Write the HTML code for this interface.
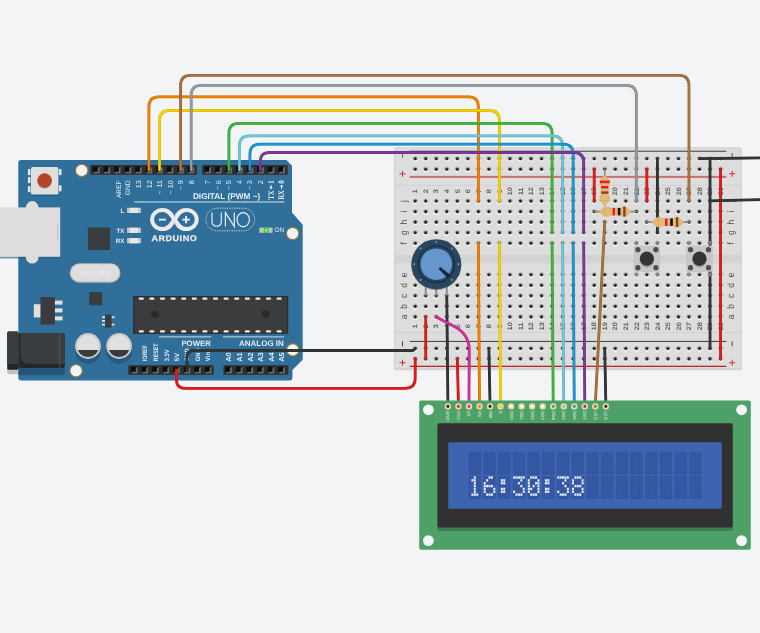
<!DOCTYPE html><html><head><meta charset="utf-8"><style>html,body{margin:0;padding:0;background:#f3f4f6;}svg{display:block;}text{text-rendering:geometricPrecision;font-family:"Liberation Sans", sans-serif;}</style></head><body>
<svg style="will-change:transform" width="760" height="633" viewBox="0 0 760 633">
<rect width="760" height="633" fill="#f3f4f6"/>
<path d="M21,160 L286.3,160 L292,165.7 L292,212.6 L302.7,224.7 L302.7,359.8 L292.4,370 L292.4,377.5 Q292.4,380.5 289.4,380.5 L21.3,380.5 Q18.3,380.5 18.3,377.5 L18.3,163 Q18.3,160 21,160 Z" fill="#306f99"/>
<rect x="0" y="208.5" width="60.2" height="50" fill="#245a80" opacity="0.6"/>
<circle cx="32.2" cy="207.4" r="6.3" fill="#dedede"/>
<circle cx="32.2" cy="257.2" r="6.3" fill="#dedede"/>
<rect x="0" y="207.4" width="60.2" height="49.4" fill="#dedede"/>
<rect x="57.2" y="224" width="1" height="16" fill="#b9b9b9"/>
<rect x="31" y="168.5" width="27.4" height="27.5" rx="1.5" fill="#245a80" opacity="0.7"/>
<rect x="27.9" y="169" width="2.6" height="6.2" rx="0.8" fill="#e2e6ea"/>
<rect x="27.9" y="177" width="2.6" height="6.2" rx="0.8" fill="#e2e6ea"/>
<rect x="27.9" y="186" width="2.6" height="6.2" rx="0.8" fill="#e2e6ea"/>
<rect x="58.9" y="169" width="2.6" height="6.2" rx="0.8" fill="#e2e6ea"/>
<rect x="58.9" y="185.2" width="2.6" height="6.2" rx="0.8" fill="#e2e6ea"/>
<rect x="31" y="167.1" width="27.4" height="27.5" rx="1.5" fill="#dfdfdf"/>
<circle cx="44.6" cy="181.3" r="7.2" fill="#8a3a25" opacity="0.5"/>
<circle cx="44.6" cy="180.5" r="7.2" fill="#b5442a"/>
<circle cx="81.7" cy="170.4" r="6.2" fill="#f3f4f6" stroke="#947c38" stroke-width="1.2"/>
<circle cx="292.6" cy="233.5" r="6.2" fill="#f3f4f6" stroke="#947c38" stroke-width="1.2"/>
<circle cx="292.8" cy="349.9" r="6.2" fill="#f3f4f6" stroke="#947c38" stroke-width="1.2"/>
<circle cx="76.1" cy="370.7" r="6.2" fill="#f3f4f6" stroke="#947c38" stroke-width="1.2"/>
<rect x="90.3" y="165" width="106.6" height="9.8" rx="0.8" fill="#2f2f2f"/>
<rect x="92.8" y="166.3" width="6.8" height="7.2" fill="#1c1c1c"/>
<path d="M92.8,173.5 L99.6,173.5 L99.6,166.3 L97.6,168.3 L97.6,171.5 L94.8,171.5 Z" fill="#6b6b6b"/>
<rect x="93.6" y="167.1" width="4" height="4.4" fill="#0c0c0c"/>
<rect x="103.33" y="166.3" width="6.8" height="7.2" fill="#1c1c1c"/>
<path d="M103.33,173.5 L110.13,173.5 L110.13,166.3 L108.13,168.3 L108.13,171.5 L105.33,171.5 Z" fill="#6b6b6b"/>
<rect x="104.13" y="167.1" width="4" height="4.4" fill="#0c0c0c"/>
<rect x="113.86" y="166.3" width="6.8" height="7.2" fill="#1c1c1c"/>
<path d="M113.86,173.5 L120.66,173.5 L120.66,166.3 L118.66,168.3 L118.66,171.5 L115.86,171.5 Z" fill="#6b6b6b"/>
<rect x="114.66" y="167.1" width="4" height="4.4" fill="#0c0c0c"/>
<rect x="124.39" y="166.3" width="6.8" height="7.2" fill="#1c1c1c"/>
<path d="M124.39,173.5 L131.19,173.5 L131.19,166.3 L129.19,168.3 L129.19,171.5 L126.39,171.5 Z" fill="#6b6b6b"/>
<rect x="125.19" y="167.1" width="4" height="4.4" fill="#0c0c0c"/>
<rect x="134.92" y="166.3" width="6.8" height="7.2" fill="#1c1c1c"/>
<path d="M134.92,173.5 L141.72,173.5 L141.72,166.3 L139.72,168.3 L139.72,171.5 L136.92,171.5 Z" fill="#6b6b6b"/>
<rect x="135.72" y="167.1" width="4" height="4.4" fill="#0c0c0c"/>
<rect x="145.45" y="166.3" width="6.8" height="7.2" fill="#1c1c1c"/>
<path d="M145.45,173.5 L152.25,173.5 L152.25,166.3 L150.25,168.3 L150.25,171.5 L147.45,171.5 Z" fill="#6b6b6b"/>
<rect x="146.25" y="167.1" width="4" height="4.4" fill="#0c0c0c"/>
<rect x="155.98" y="166.3" width="6.8" height="7.2" fill="#1c1c1c"/>
<path d="M155.98,173.5 L162.78,173.5 L162.78,166.3 L160.78,168.3 L160.78,171.5 L157.98,171.5 Z" fill="#6b6b6b"/>
<rect x="156.78" y="167.1" width="4" height="4.4" fill="#0c0c0c"/>
<rect x="166.51" y="166.3" width="6.8" height="7.2" fill="#1c1c1c"/>
<path d="M166.51,173.5 L173.31,173.5 L173.31,166.3 L171.31,168.3 L171.31,171.5 L168.51,171.5 Z" fill="#6b6b6b"/>
<rect x="167.31" y="167.1" width="4" height="4.4" fill="#0c0c0c"/>
<rect x="177.04" y="166.3" width="6.8" height="7.2" fill="#1c1c1c"/>
<path d="M177.04,173.5 L183.84,173.5 L183.84,166.3 L181.84,168.3 L181.84,171.5 L179.04,171.5 Z" fill="#6b6b6b"/>
<rect x="177.84" y="167.1" width="4" height="4.4" fill="#0c0c0c"/>
<rect x="187.57" y="166.3" width="6.8" height="7.2" fill="#1c1c1c"/>
<path d="M187.57,173.5 L194.37,173.5 L194.37,166.3 L192.37,168.3 L192.37,171.5 L189.57,171.5 Z" fill="#6b6b6b"/>
<rect x="188.37" y="167.1" width="4" height="4.4" fill="#0c0c0c"/>
<rect x="202.2" y="165" width="85.5" height="9.8" rx="0.8" fill="#2f2f2f"/>
<rect x="204.3" y="166.3" width="6.8" height="7.2" fill="#1c1c1c"/>
<path d="M204.3,173.5 L211.1,173.5 L211.1,166.3 L209.1,168.3 L209.1,171.5 L206.3,171.5 Z" fill="#6b6b6b"/>
<rect x="205.1" y="167.1" width="4" height="4.4" fill="#0c0c0c"/>
<rect x="214.85" y="166.3" width="6.8" height="7.2" fill="#1c1c1c"/>
<path d="M214.85,173.5 L221.65,173.5 L221.65,166.3 L219.65,168.3 L219.65,171.5 L216.85,171.5 Z" fill="#6b6b6b"/>
<rect x="215.65" y="167.1" width="4" height="4.4" fill="#0c0c0c"/>
<rect x="225.4" y="166.3" width="6.8" height="7.2" fill="#1c1c1c"/>
<path d="M225.4,173.5 L232.2,173.5 L232.2,166.3 L230.2,168.3 L230.2,171.5 L227.4,171.5 Z" fill="#6b6b6b"/>
<rect x="226.2" y="167.1" width="4" height="4.4" fill="#0c0c0c"/>
<rect x="235.95" y="166.3" width="6.8" height="7.2" fill="#1c1c1c"/>
<path d="M235.95,173.5 L242.75,173.5 L242.75,166.3 L240.75,168.3 L240.75,171.5 L237.95,171.5 Z" fill="#6b6b6b"/>
<rect x="236.75" y="167.1" width="4" height="4.4" fill="#0c0c0c"/>
<rect x="246.5" y="166.3" width="6.8" height="7.2" fill="#1c1c1c"/>
<path d="M246.5,173.5 L253.3,173.5 L253.3,166.3 L251.3,168.3 L251.3,171.5 L248.5,171.5 Z" fill="#6b6b6b"/>
<rect x="247.3" y="167.1" width="4" height="4.4" fill="#0c0c0c"/>
<rect x="257.05" y="166.3" width="6.8" height="7.2" fill="#1c1c1c"/>
<path d="M257.05,173.5 L263.85,173.5 L263.85,166.3 L261.85,168.3 L261.85,171.5 L259.05,171.5 Z" fill="#6b6b6b"/>
<rect x="257.85" y="167.1" width="4" height="4.4" fill="#0c0c0c"/>
<rect x="267.6" y="166.3" width="6.8" height="7.2" fill="#1c1c1c"/>
<path d="M267.6,173.5 L274.4,173.5 L274.4,166.3 L272.4,168.3 L272.4,171.5 L269.6,171.5 Z" fill="#6b6b6b"/>
<rect x="268.4" y="167.1" width="4" height="4.4" fill="#0c0c0c"/>
<rect x="278.15" y="166.3" width="6.8" height="7.2" fill="#1c1c1c"/>
<path d="M278.15,173.5 L284.95,173.5 L284.95,166.3 L282.95,168.3 L282.95,171.5 L280.15,171.5 Z" fill="#6b6b6b"/>
<rect x="278.95" y="167.1" width="4" height="4.4" fill="#0c0c0c"/>
<rect x="128.3" y="365.2" width="85.4" height="9.6" rx="0.8" fill="#2f2f2f"/>
<rect x="130.8" y="366.4" width="6.8" height="7.2" fill="#1c1c1c"/>
<path d="M130.8,373.6 L137.6,373.6 L137.6,366.4 L135.6,368.4 L135.6,371.6 L132.8,371.6 Z" fill="#6b6b6b"/>
<rect x="131.6" y="367.2" width="4" height="4.4" fill="#0c0c0c"/>
<rect x="141.35" y="366.4" width="6.8" height="7.2" fill="#1c1c1c"/>
<path d="M141.35,373.6 L148.15,373.6 L148.15,366.4 L146.15,368.4 L146.15,371.6 L143.35,371.6 Z" fill="#6b6b6b"/>
<rect x="142.15" y="367.2" width="4" height="4.4" fill="#0c0c0c"/>
<rect x="151.9" y="366.4" width="6.8" height="7.2" fill="#1c1c1c"/>
<path d="M151.9,373.6 L158.7,373.6 L158.7,366.4 L156.7,368.4 L156.7,371.6 L153.9,371.6 Z" fill="#6b6b6b"/>
<rect x="152.7" y="367.2" width="4" height="4.4" fill="#0c0c0c"/>
<rect x="162.45" y="366.4" width="6.8" height="7.2" fill="#1c1c1c"/>
<path d="M162.45,373.6 L169.25,373.6 L169.25,366.4 L167.25,368.4 L167.25,371.6 L164.45,371.6 Z" fill="#6b6b6b"/>
<rect x="163.25" y="367.2" width="4" height="4.4" fill="#0c0c0c"/>
<rect x="173" y="366.4" width="6.8" height="7.2" fill="#1c1c1c"/>
<path d="M173,373.6 L179.8,373.6 L179.8,366.4 L177.8,368.4 L177.8,371.6 L175,371.6 Z" fill="#6b6b6b"/>
<rect x="173.8" y="367.2" width="4" height="4.4" fill="#0c0c0c"/>
<rect x="183.55" y="366.4" width="6.8" height="7.2" fill="#1c1c1c"/>
<path d="M183.55,373.6 L190.35,373.6 L190.35,366.4 L188.35,368.4 L188.35,371.6 L185.55,371.6 Z" fill="#6b6b6b"/>
<rect x="184.35" y="367.2" width="4" height="4.4" fill="#0c0c0c"/>
<rect x="194.1" y="366.4" width="6.8" height="7.2" fill="#1c1c1c"/>
<path d="M194.1,373.6 L200.9,373.6 L200.9,366.4 L198.9,368.4 L198.9,371.6 L196.1,371.6 Z" fill="#6b6b6b"/>
<rect x="194.9" y="367.2" width="4" height="4.4" fill="#0c0c0c"/>
<rect x="204.65" y="366.4" width="6.8" height="7.2" fill="#1c1c1c"/>
<path d="M204.65,373.6 L211.45,373.6 L211.45,366.4 L209.45,368.4 L209.45,371.6 L206.65,371.6 Z" fill="#6b6b6b"/>
<rect x="205.45" y="367.2" width="4" height="4.4" fill="#0c0c0c"/>
<rect x="223.5" y="365.2" width="64.8" height="9.6" rx="0.8" fill="#2f2f2f"/>
<rect x="225.1" y="366.4" width="6.8" height="7.2" fill="#1c1c1c"/>
<path d="M225.1,373.6 L231.9,373.6 L231.9,366.4 L229.9,368.4 L229.9,371.6 L227.1,371.6 Z" fill="#6b6b6b"/>
<rect x="225.9" y="367.2" width="4" height="4.4" fill="#0c0c0c"/>
<rect x="235.7" y="366.4" width="6.8" height="7.2" fill="#1c1c1c"/>
<path d="M235.7,373.6 L242.5,373.6 L242.5,366.4 L240.5,368.4 L240.5,371.6 L237.7,371.6 Z" fill="#6b6b6b"/>
<rect x="236.5" y="367.2" width="4" height="4.4" fill="#0c0c0c"/>
<rect x="246.3" y="366.4" width="6.8" height="7.2" fill="#1c1c1c"/>
<path d="M246.3,373.6 L253.1,373.6 L253.1,366.4 L251.1,368.4 L251.1,371.6 L248.3,371.6 Z" fill="#6b6b6b"/>
<rect x="247.1" y="367.2" width="4" height="4.4" fill="#0c0c0c"/>
<rect x="256.9" y="366.4" width="6.8" height="7.2" fill="#1c1c1c"/>
<path d="M256.9,373.6 L263.7,373.6 L263.7,366.4 L261.7,368.4 L261.7,371.6 L258.9,371.6 Z" fill="#6b6b6b"/>
<rect x="257.7" y="367.2" width="4" height="4.4" fill="#0c0c0c"/>
<rect x="267.5" y="366.4" width="6.8" height="7.2" fill="#1c1c1c"/>
<path d="M267.5,373.6 L274.3,373.6 L274.3,366.4 L272.3,368.4 L272.3,371.6 L269.5,371.6 Z" fill="#6b6b6b"/>
<rect x="268.3" y="367.2" width="4" height="4.4" fill="#0c0c0c"/>
<rect x="278.1" y="366.4" width="6.8" height="7.2" fill="#1c1c1c"/>
<path d="M278.1,373.6 L284.9,373.6 L284.9,366.4 L282.9,368.4 L282.9,371.6 L280.1,371.6 Z" fill="#6b6b6b"/>
<rect x="278.9" y="367.2" width="4" height="4.4" fill="#0c0c0c"/>
<text transform="translate(120.58,180.3) rotate(-90)" text-anchor="end" font-size="6.6" textLength="17.8" lengthAdjust="spacingAndGlyphs" fill="#e4ecf2">AREF</text>
<text transform="translate(130.05,180.3) rotate(-90)" text-anchor="end" font-size="6.8" textLength="14.9" lengthAdjust="spacingAndGlyphs" fill="#e4ecf2">GND</text>
<text transform="translate(141.49,180.3) rotate(-90)" text-anchor="end" font-size="7.2" fill="#e4ecf2">13</text>
<text transform="translate(151.99,180.3) rotate(-90)" text-anchor="end" font-size="7.2" fill="#e4ecf2">12</text>
<text transform="translate(162.49,180.3) rotate(-90)" text-anchor="end" font-size="7.2" fill="#e4ecf2">11</text>
<text transform="translate(162.1,194.2) rotate(-90)" font-size="6.5" fill="#e4ecf2">~</text>
<text transform="translate(172.99,180.3) rotate(-90)" text-anchor="end" font-size="7.2" fill="#e4ecf2">10</text>
<text transform="translate(172.6,194.2) rotate(-90)" font-size="6.5" fill="#e4ecf2">~</text>
<text transform="translate(183.49,180.3) rotate(-90)" text-anchor="end" font-size="7.2" fill="#e4ecf2">9</text>
<text transform="translate(183.1,189.8) rotate(-90)" font-size="6.5" fill="#e4ecf2">~</text>
<text transform="translate(193.99,180.3) rotate(-90)" text-anchor="end" font-size="7.2" fill="#e4ecf2">8</text>
<text transform="translate(210.29,180.3) rotate(-90)" text-anchor="end" font-size="7.2" fill="#e4ecf2">7</text>
<text transform="translate(220.79,180.3) rotate(-90)" text-anchor="end" font-size="7.2" fill="#e4ecf2">6</text>
<text transform="translate(220.4,189.4) rotate(-90)" font-size="6.5" fill="#e4ecf2">~</text>
<text transform="translate(231.29,180.3) rotate(-90)" text-anchor="end" font-size="7.2" fill="#e4ecf2">5</text>
<text transform="translate(230.9,189.4) rotate(-90)" font-size="6.5" fill="#e4ecf2">~</text>
<text transform="translate(241.89,180.3) rotate(-90)" text-anchor="end" font-size="7.2" fill="#e4ecf2">4</text>
<text transform="translate(252.39,180.3) rotate(-90)" text-anchor="end" font-size="7.2" fill="#e4ecf2">3</text>
<text transform="translate(252,189.4) rotate(-90)" font-size="6.5" fill="#e4ecf2">~</text>
<text transform="translate(262.99,180.3) rotate(-90)" text-anchor="end" font-size="7.2" fill="#e4ecf2">2</text>
<text transform="translate(273.8,199.8) rotate(-90) scale(0.8,1)" style="font-family:Liberation Serif,serif" font-size="8.5" font-weight="bold" fill="#e4ecf2">TX</text>
<text transform="translate(273.8,183.7) rotate(-90) scale(0.8,1)" style="font-family:Liberation Serif,serif" font-size="8.5" font-weight="bold" fill="#e4ecf2">1</text>
<path d="M269.4,188.6 L272.6,188.6 L271,185.6 Z" fill="#e4ecf2"/>
<rect x="270.65" y="185" width="0.7" height="4.4" fill="#e4ecf2"/>
<text transform="translate(284.4,199.8) rotate(-90) scale(0.8,1)" style="font-family:Liberation Serif,serif" font-size="8.5" font-weight="bold" fill="#e4ecf2">RX</text>
<text transform="translate(284.4,183.7) rotate(-90) scale(0.8,1)" style="font-family:Liberation Serif,serif" font-size="8.5" font-weight="bold" fill="#e4ecf2">0</text>
<path d="M280,185.6 L283.2,185.6 L281.6,188.6 Z" fill="#e4ecf2"/>
<rect x="281.25" y="185" width="0.7" height="4.4" fill="#e4ecf2"/>
<text x="192.9" y="199.1" font-size="8.2" font-weight="bold" textLength="67.4" lengthAdjust="spacingAndGlyphs" fill="#e4ecf2">DIGITAL (PWM ~)</text>
<rect x="134.4" y="201.3" width="150" height="1.4" fill="#a9c3d6"/>
<text transform="translate(147,361.2) rotate(-90)" font-size="6.4" font-weight="bold" textLength="16.3" lengthAdjust="spacingAndGlyphs" fill="#e4ecf2">IOREF</text>
<text transform="translate(158.1,361.2) rotate(-90)" font-size="6.4" font-weight="bold" textLength="17.7" lengthAdjust="spacingAndGlyphs" fill="#e4ecf2">RESET</text>
<text transform="translate(168.5,361.2) rotate(-90)" font-size="6.4" font-weight="bold" textLength="11.8" lengthAdjust="spacingAndGlyphs" fill="#e4ecf2">3.3V</text>
<text transform="translate(178.8,361.2) rotate(-90)" font-size="6.4" font-weight="bold" textLength="8.4" lengthAdjust="spacingAndGlyphs" fill="#e4ecf2">5V</text>
<text transform="translate(189.2,361.2) rotate(-90)" font-size="6.4" font-weight="bold" textLength="12.8" lengthAdjust="spacingAndGlyphs" fill="#e4ecf2">GND</text>
<text transform="translate(199.7,361.2) rotate(-90)" font-size="6.4" font-weight="bold" textLength="12.8" lengthAdjust="spacingAndGlyphs" fill="#e4ecf2">GND</text>
<text transform="translate(210.1,361.2) rotate(-90)" font-size="6.4" font-weight="bold" textLength="9.4" lengthAdjust="spacingAndGlyphs" fill="#e4ecf2">Vin</text>
<text transform="translate(231.39,361.8) rotate(-90)" font-size="7.2" font-weight="bold" textLength="9.5" lengthAdjust="spacingAndGlyphs" fill="#e4ecf2">A0</text>
<text transform="translate(241.99,361.8) rotate(-90)" font-size="7.2" font-weight="bold" textLength="9.5" lengthAdjust="spacingAndGlyphs" fill="#e4ecf2">A1</text>
<text transform="translate(252.59,361.8) rotate(-90)" font-size="7.2" font-weight="bold" textLength="9.5" lengthAdjust="spacingAndGlyphs" fill="#e4ecf2">A2</text>
<text transform="translate(263.19,361.8) rotate(-90)" font-size="7.2" font-weight="bold" textLength="9.5" lengthAdjust="spacingAndGlyphs" fill="#e4ecf2">A3</text>
<text transform="translate(273.79,361.8) rotate(-90)" font-size="7.2" font-weight="bold" textLength="9.5" lengthAdjust="spacingAndGlyphs" fill="#e4ecf2">A4</text>
<text transform="translate(284.39,361.8) rotate(-90)" font-size="7.2" font-weight="bold" textLength="9.5" lengthAdjust="spacingAndGlyphs" fill="#e4ecf2">A5</text>
<rect x="159" y="336.2" width="52.2" height="1.3" fill="#a9c3d6"/>
<rect x="223" y="336.2" width="61.2" height="1.3" fill="#a9c3d6"/>
<text x="181.4" y="345.8" font-size="7.8" font-weight="bold" fill="#e4ecf2">POWER</text>
<text x="238.9" y="345.5" font-size="8.0" font-weight="bold" textLength="45" lengthAdjust="spacingAndGlyphs" fill="#e4ecf2">ANALOG IN</text>
<rect x="127.1" y="207.8" width="13.8" height="5.2" fill="#c9c9c9"/>
<rect x="130" y="207.8" width="8" height="5.2" fill="#e6e6e6"/>
<text x="124.4" y="212.6" text-anchor="end" font-size="6.2" font-weight="bold" fill="#e4ecf2">L</text>
<rect x="127.1" y="227.7" width="13.8" height="5.2" fill="#c9c9c9"/>
<rect x="130" y="227.7" width="8" height="5.2" fill="#e6e6e6"/>
<text x="124.4" y="232.5" text-anchor="end" font-size="6.2" font-weight="bold" fill="#e4ecf2">TX</text>
<rect x="127.1" y="238.1" width="13.8" height="5.2" fill="#c9c9c9"/>
<rect x="130" y="238.1" width="8" height="5.2" fill="#e6e6e6"/>
<text x="124.4" y="242.9" text-anchor="end" font-size="6.2" font-weight="bold" fill="#e4ecf2">RX</text>
<rect x="87.9" y="227.6" width="22.1" height="22.4" rx="0.6" fill="#3a3d40"/>
<ellipse cx="162.5" cy="219.55" rx="12.4" ry="11.45" fill="#ebebeb"/><ellipse cx="186.3" cy="219.55" rx="12.4" ry="11.45" fill="#ebebeb"/>
<path d="M171.8,219.6 C169,215 166.5,212.1 162.5,212.1 C157.8,212.1 154.1,215.5 154.1,219.6 C154.1,223.7 157.8,227.1 162.5,227.1 C166.5,227.1 169,224.2 171.8,219.6 Z" fill="#306f99"/>
<path d="M177.2,219.6 C180,215 182.5,212.1 186.5,212.1 C191.2,212.1 194.7,215.5 194.7,219.6 C194.7,223.7 191.2,227.1 186.5,227.1 C182.5,227.1 180,224.2 177.2,219.6 Z" fill="#306f99"/>
<rect x="158.8" y="218.7" width="7.1" height="1.9" fill="#ebebeb"/>
<rect x="182.4" y="218.7" width="7.4" height="1.9" fill="#ebebeb"/><rect x="185.15" y="215.9" width="1.9" height="7.4" fill="#ebebeb"/>
<text transform="translate(174.3,240.7) scale(1,0.9)" text-anchor="middle" font-size="9" font-weight="bold" letter-spacing="0.55" fill="#ebebeb" stroke="#ebebeb" stroke-width="0.3">ARDUINO</text>
<rect x="205.9" y="208.2" width="48.8" height="22.6" rx="11.3" fill="none" stroke="#dfe8ef" stroke-width="0.9" stroke-dasharray="1.2 1.2"/>
<g fill="none" stroke="#eef2f5" stroke-width="1.15"><path d="M212,212.6 L212,221.3 Q212,226.2 216.65,226.2 Q221.3,226.2 221.3,221.3 L221.3,212.6"/><path d="M225.4,226.6 L225.4,212.6 L234.3,226.6 L234.3,212.6"/><ellipse cx="243.2" cy="219.6" rx="6.2" ry="6.95"/></g>
<rect x="259.4" y="227.6" width="13.2" height="5.2" fill="#c2c2c2"/>
<rect x="263.8" y="227.6" width="5" height="5.2" fill="#2fd23a"/>
<circle cx="266.3" cy="230.2" r="1.2" fill="#b8ffb8"/>
<text x="274.6" y="232.4" font-size="6.4" fill="#e4ecf2">ON</text>
<rect x="69.7" y="263.3" width="50.8" height="19.4" rx="9.7" fill="#b9b9b9"/>
<rect x="70.6" y="263.9" width="49" height="17.6" rx="8.8" fill="#d4d4d4"/>
<rect x="71.3" y="264.4" width="47.6" height="16.4" rx="8.2" fill="#dedede"/>
<text x="79.7" y="276" font-size="7.8" textLength="30.6" lengthAdjust="spacingAndGlyphs" fill="#ebebeb">SPK16.000G</text>
<rect x="89.1" y="292" width="13.1" height="13.3" rx="0.5" fill="#3a3d40"/>
<rect x="33.8" y="304.2" width="7" height="13.3" fill="#e0e0e0"/>
<rect x="54.5" y="300.6" width="8" height="4" fill="#e0e0e0"/>
<rect x="54.5" y="308.4" width="8" height="4" fill="#e0e0e0"/>
<rect x="54.5" y="316.4" width="8" height="4" fill="#e0e0e0"/>
<rect x="40.5" y="296.9" width="14.4" height="27.6" rx="0.8" fill="#3a3d40"/>
<rect x="102" y="316.3" width="4" height="1.8" fill="#e0e0e0"/>
<rect x="102" y="320" width="4" height="1.8" fill="#e0e0e0"/>
<rect x="102" y="323.7" width="4" height="1.8" fill="#e0e0e0"/>
<rect x="110.5" y="316.3" width="4" height="1.8" fill="#e0e0e0"/>
<rect x="110.5" y="323.7" width="4" height="1.8" fill="#e0e0e0"/>
<rect x="105" y="314.6" width="6.7" height="12.8" rx="0.5" fill="#3a3d40"/>
<rect x="18.3" y="365" width="46.4" height="10.3" rx="2" fill="#245478"/>
<rect x="7.2" y="366" width="11" height="8.3" rx="2" fill="#c2c2c2"/>
<rect x="18.3" y="333.3" width="46.4" height="34.8" rx="2" fill="#252729"/>
<path d="M20.5,333.3 L62.7,333.3 Q64.7,333.3 64.7,335.3 L64.7,363.7 L29.5,363.7 Q20.5,363.7 20.5,354.7 Z" fill="#3b3e41"/>
<rect x="59.3" y="333.3" width="0.9" height="34.8" fill="#55585b"/>
<rect x="7.2" y="331.6" width="11.2" height="38.2" rx="1.6" fill="#232425"/>
<rect x="7.2" y="331.6" width="11.2" height="32.7" rx="1.6" fill="#3a3d40"/>
<circle cx="88" cy="351" r="12.9" fill="#265a80"/>
<circle cx="119.1" cy="351" r="12.9" fill="#265a80"/>
<circle cx="88" cy="346" r="12.9" fill="#c9c9c9"/>
<circle cx="88" cy="346" r="10.9" fill="#e0e0e0"/>
<path d="M77.85,350 L98.15,350 A10.9,10.9 0 0 1 77.85,350 Z" fill="#3b3b3b"/>
<circle cx="119.1" cy="346" r="12.9" fill="#c9c9c9"/>
<circle cx="119.1" cy="346" r="10.9" fill="#e0e0e0"/>
<path d="M108.95,350 L129.25,350 A10.9,10.9 0 0 1 108.95,350 Z" fill="#3b3b3b"/>
<rect x="133" y="296.1" width="155.2" height="37.9" rx="1" fill="#2c2e30"/>
<rect x="134.2" y="297.3" width="152.8" height="35.5" fill="#3a3c3e"/>
<rect x="138.9" y="297.6" width="4.8" height="2.1" rx="0.5" fill="#e8e8e8"/>
<rect x="138.9" y="330.3" width="4.8" height="2.1" rx="0.5" fill="#e8e8e8"/>
<rect x="149.5" y="297.6" width="4.8" height="2.1" rx="0.5" fill="#e8e8e8"/>
<rect x="149.5" y="330.3" width="4.8" height="2.1" rx="0.5" fill="#e8e8e8"/>
<rect x="160.1" y="297.6" width="4.8" height="2.1" rx="0.5" fill="#e8e8e8"/>
<rect x="160.1" y="330.3" width="4.8" height="2.1" rx="0.5" fill="#e8e8e8"/>
<rect x="170.7" y="297.6" width="4.8" height="2.1" rx="0.5" fill="#e8e8e8"/>
<rect x="170.7" y="330.3" width="4.8" height="2.1" rx="0.5" fill="#e8e8e8"/>
<rect x="181.3" y="297.6" width="4.8" height="2.1" rx="0.5" fill="#e8e8e8"/>
<rect x="181.3" y="330.3" width="4.8" height="2.1" rx="0.5" fill="#e8e8e8"/>
<rect x="191.9" y="297.6" width="4.8" height="2.1" rx="0.5" fill="#e8e8e8"/>
<rect x="191.9" y="330.3" width="4.8" height="2.1" rx="0.5" fill="#e8e8e8"/>
<rect x="202.5" y="297.6" width="4.8" height="2.1" rx="0.5" fill="#e8e8e8"/>
<rect x="202.5" y="330.3" width="4.8" height="2.1" rx="0.5" fill="#e8e8e8"/>
<rect x="213.1" y="297.6" width="4.8" height="2.1" rx="0.5" fill="#e8e8e8"/>
<rect x="213.1" y="330.3" width="4.8" height="2.1" rx="0.5" fill="#e8e8e8"/>
<rect x="223.7" y="297.6" width="4.8" height="2.1" rx="0.5" fill="#e8e8e8"/>
<rect x="223.7" y="330.3" width="4.8" height="2.1" rx="0.5" fill="#e8e8e8"/>
<rect x="234.3" y="297.6" width="4.8" height="2.1" rx="0.5" fill="#e8e8e8"/>
<rect x="234.3" y="330.3" width="4.8" height="2.1" rx="0.5" fill="#e8e8e8"/>
<rect x="244.9" y="297.6" width="4.8" height="2.1" rx="0.5" fill="#e8e8e8"/>
<rect x="244.9" y="330.3" width="4.8" height="2.1" rx="0.5" fill="#e8e8e8"/>
<rect x="255.5" y="297.6" width="4.8" height="2.1" rx="0.5" fill="#e8e8e8"/>
<rect x="255.5" y="330.3" width="4.8" height="2.1" rx="0.5" fill="#e8e8e8"/>
<rect x="266.1" y="297.6" width="4.8" height="2.1" rx="0.5" fill="#e8e8e8"/>
<rect x="266.1" y="330.3" width="4.8" height="2.1" rx="0.5" fill="#e8e8e8"/>
<rect x="276.7" y="297.6" width="4.8" height="2.1" rx="0.5" fill="#e8e8e8"/>
<rect x="276.7" y="330.3" width="4.8" height="2.1" rx="0.5" fill="#e8e8e8"/>
<circle cx="155" cy="314.3" r="3.8" fill="#2a2b2c"/>
<circle cx="265.7" cy="314.3" r="3.8" fill="#2a2b2c"/>
<rect x="394.4" y="147.8" width="347" height="221.9" rx="2.5" fill="#dddddd" stroke="#cdcdcd" stroke-width="0.9"/>
<rect x="394" y="368.2" width="347.8" height="1.9" fill="#d3d3d3"/>
<rect x="394" y="184.9" width="347.8" height="0.9" fill="#d0d0d0"/>
<rect x="394" y="332" width="347.8" height="0.9" fill="#d0d0d0"/>
<rect x="394" y="254.9" width="347.8" height="8.4" fill="#d3d3d3"/>
<rect x="409.7" y="150.7" width="316.7" height="1.1" fill="#4a4a4a"/>
<rect x="409.7" y="175.9" width="316.7" height="2" fill="#c87070"/>
<rect x="409.7" y="340.9" width="316.7" height="1.1" fill="#4a4a4a"/>
<rect x="409.7" y="365.7" width="316.7" height="1.3" fill="#b8262b"/>
<rect x="402" y="153" width="1" height="4.5" fill="#5a5a5a"/>
<rect x="399.5" y="173.3" width="6" height="1" fill="#c33"/><rect x="402" y="170.8" width="1" height="6" fill="#c33"/>
<rect x="402" y="341.2" width="1" height="5" fill="#444"/>
<rect x="399.5" y="362.2" width="6" height="1" fill="#c33"/><rect x="402" y="359.7" width="1" height="6" fill="#c33"/>
<rect x="731.7" y="153" width="1" height="4.5" fill="#5a5a5a"/>
<rect x="729.2" y="173.3" width="6" height="1" fill="#c33"/><rect x="731.7" y="170.8" width="1" height="6" fill="#c33"/>
<rect x="731.7" y="341.2" width="1" height="5" fill="#444"/>
<rect x="729.2" y="362.2" width="6" height="1" fill="#c33"/><rect x="731.7" y="359.7" width="1" height="6" fill="#c33"/>
<defs><radialGradient id="gsh"><stop offset="0.3" stop-color="#6a6a6a" stop-opacity="0.7"/><stop offset="1" stop-color="#9a9a9a" stop-opacity="0"/></radialGradient><radialGradient id="ghl"><stop offset="0.45" stop-color="#ffffff" stop-opacity="0.85"/><stop offset="1" stop-color="#ffffff" stop-opacity="0"/></radialGradient><g id="h"><ellipse rx="3.1" ry="2.7" cy="1.0" fill="url(#ghl)"/><ellipse rx="3.5" ry="2.7" cy="-0.4" fill="url(#gsh)"/><circle r="1.55" fill="#2a2a2a"/></g></defs>
<use href="#h" x="415.2" y="158.7"/>
<use href="#h" x="425.73" y="158.7"/>
<use href="#h" x="436.26" y="158.7"/>
<use href="#h" x="446.79" y="158.7"/>
<use href="#h" x="457.32" y="158.7"/>
<use href="#h" x="467.85" y="158.7"/>
<use href="#h" x="478.38" y="158.7"/>
<use href="#h" x="488.91" y="158.7"/>
<use href="#h" x="499.44" y="158.7"/>
<use href="#h" x="509.97" y="158.7"/>
<use href="#h" x="520.5" y="158.7"/>
<use href="#h" x="531.03" y="158.7"/>
<use href="#h" x="541.56" y="158.7"/>
<use href="#h" x="552.09" y="158.7"/>
<use href="#h" x="562.62" y="158.7"/>
<use href="#h" x="573.15" y="158.7"/>
<use href="#h" x="583.68" y="158.7"/>
<use href="#h" x="594.21" y="158.7"/>
<use href="#h" x="604.74" y="158.7"/>
<use href="#h" x="615.27" y="158.7"/>
<use href="#h" x="625.8" y="158.7"/>
<use href="#h" x="636.33" y="158.7"/>
<use href="#h" x="646.86" y="158.7"/>
<use href="#h" x="657.39" y="158.7"/>
<use href="#h" x="667.92" y="158.7"/>
<use href="#h" x="678.45" y="158.7"/>
<use href="#h" x="688.98" y="158.7"/>
<use href="#h" x="699.51" y="158.7"/>
<use href="#h" x="710.04" y="158.7"/>
<use href="#h" x="720.57" y="158.7"/>
<use href="#h" x="415.2" y="169.2"/>
<use href="#h" x="425.73" y="169.2"/>
<use href="#h" x="436.26" y="169.2"/>
<use href="#h" x="446.79" y="169.2"/>
<use href="#h" x="457.32" y="169.2"/>
<use href="#h" x="467.85" y="169.2"/>
<use href="#h" x="478.38" y="169.2"/>
<use href="#h" x="488.91" y="169.2"/>
<use href="#h" x="499.44" y="169.2"/>
<use href="#h" x="509.97" y="169.2"/>
<use href="#h" x="520.5" y="169.2"/>
<use href="#h" x="531.03" y="169.2"/>
<use href="#h" x="541.56" y="169.2"/>
<use href="#h" x="552.09" y="169.2"/>
<use href="#h" x="562.62" y="169.2"/>
<use href="#h" x="573.15" y="169.2"/>
<use href="#h" x="583.68" y="169.2"/>
<use href="#h" x="594.21" y="169.2"/>
<use href="#h" x="604.74" y="169.2"/>
<use href="#h" x="615.27" y="169.2"/>
<use href="#h" x="625.8" y="169.2"/>
<use href="#h" x="636.33" y="169.2"/>
<use href="#h" x="646.86" y="169.2"/>
<use href="#h" x="657.39" y="169.2"/>
<use href="#h" x="667.92" y="169.2"/>
<use href="#h" x="678.45" y="169.2"/>
<use href="#h" x="688.98" y="169.2"/>
<use href="#h" x="699.51" y="169.2"/>
<use href="#h" x="710.04" y="169.2"/>
<use href="#h" x="720.57" y="169.2"/>
<use href="#h" x="415.2" y="201.1"/>
<use href="#h" x="425.73" y="201.1"/>
<use href="#h" x="436.26" y="201.1"/>
<use href="#h" x="446.79" y="201.1"/>
<use href="#h" x="457.32" y="201.1"/>
<use href="#h" x="467.85" y="201.1"/>
<use href="#h" x="478.38" y="201.1"/>
<use href="#h" x="488.91" y="201.1"/>
<use href="#h" x="499.44" y="201.1"/>
<use href="#h" x="509.97" y="201.1"/>
<use href="#h" x="520.5" y="201.1"/>
<use href="#h" x="531.03" y="201.1"/>
<use href="#h" x="541.56" y="201.1"/>
<use href="#h" x="552.09" y="201.1"/>
<use href="#h" x="562.62" y="201.1"/>
<use href="#h" x="573.15" y="201.1"/>
<use href="#h" x="583.68" y="201.1"/>
<use href="#h" x="594.21" y="201.1"/>
<use href="#h" x="604.74" y="201.1"/>
<use href="#h" x="615.27" y="201.1"/>
<use href="#h" x="625.8" y="201.1"/>
<use href="#h" x="636.33" y="201.1"/>
<use href="#h" x="646.86" y="201.1"/>
<use href="#h" x="657.39" y="201.1"/>
<use href="#h" x="667.92" y="201.1"/>
<use href="#h" x="678.45" y="201.1"/>
<use href="#h" x="688.98" y="201.1"/>
<use href="#h" x="699.51" y="201.1"/>
<use href="#h" x="710.04" y="201.1"/>
<use href="#h" x="720.57" y="201.1"/>
<use href="#h" x="415.2" y="211.63"/>
<use href="#h" x="425.73" y="211.63"/>
<use href="#h" x="436.26" y="211.63"/>
<use href="#h" x="446.79" y="211.63"/>
<use href="#h" x="457.32" y="211.63"/>
<use href="#h" x="467.85" y="211.63"/>
<use href="#h" x="478.38" y="211.63"/>
<use href="#h" x="488.91" y="211.63"/>
<use href="#h" x="499.44" y="211.63"/>
<use href="#h" x="509.97" y="211.63"/>
<use href="#h" x="520.5" y="211.63"/>
<use href="#h" x="531.03" y="211.63"/>
<use href="#h" x="541.56" y="211.63"/>
<use href="#h" x="552.09" y="211.63"/>
<use href="#h" x="562.62" y="211.63"/>
<use href="#h" x="573.15" y="211.63"/>
<use href="#h" x="583.68" y="211.63"/>
<use href="#h" x="594.21" y="211.63"/>
<use href="#h" x="604.74" y="211.63"/>
<use href="#h" x="615.27" y="211.63"/>
<use href="#h" x="625.8" y="211.63"/>
<use href="#h" x="636.33" y="211.63"/>
<use href="#h" x="646.86" y="211.63"/>
<use href="#h" x="657.39" y="211.63"/>
<use href="#h" x="667.92" y="211.63"/>
<use href="#h" x="678.45" y="211.63"/>
<use href="#h" x="688.98" y="211.63"/>
<use href="#h" x="699.51" y="211.63"/>
<use href="#h" x="710.04" y="211.63"/>
<use href="#h" x="720.57" y="211.63"/>
<use href="#h" x="415.2" y="222.16"/>
<use href="#h" x="425.73" y="222.16"/>
<use href="#h" x="436.26" y="222.16"/>
<use href="#h" x="446.79" y="222.16"/>
<use href="#h" x="457.32" y="222.16"/>
<use href="#h" x="467.85" y="222.16"/>
<use href="#h" x="478.38" y="222.16"/>
<use href="#h" x="488.91" y="222.16"/>
<use href="#h" x="499.44" y="222.16"/>
<use href="#h" x="509.97" y="222.16"/>
<use href="#h" x="520.5" y="222.16"/>
<use href="#h" x="531.03" y="222.16"/>
<use href="#h" x="541.56" y="222.16"/>
<use href="#h" x="552.09" y="222.16"/>
<use href="#h" x="562.62" y="222.16"/>
<use href="#h" x="573.15" y="222.16"/>
<use href="#h" x="583.68" y="222.16"/>
<use href="#h" x="594.21" y="222.16"/>
<use href="#h" x="604.74" y="222.16"/>
<use href="#h" x="615.27" y="222.16"/>
<use href="#h" x="625.8" y="222.16"/>
<use href="#h" x="636.33" y="222.16"/>
<use href="#h" x="646.86" y="222.16"/>
<use href="#h" x="657.39" y="222.16"/>
<use href="#h" x="667.92" y="222.16"/>
<use href="#h" x="678.45" y="222.16"/>
<use href="#h" x="688.98" y="222.16"/>
<use href="#h" x="699.51" y="222.16"/>
<use href="#h" x="710.04" y="222.16"/>
<use href="#h" x="720.57" y="222.16"/>
<use href="#h" x="415.2" y="232.69"/>
<use href="#h" x="425.73" y="232.69"/>
<use href="#h" x="436.26" y="232.69"/>
<use href="#h" x="446.79" y="232.69"/>
<use href="#h" x="457.32" y="232.69"/>
<use href="#h" x="467.85" y="232.69"/>
<use href="#h" x="478.38" y="232.69"/>
<use href="#h" x="488.91" y="232.69"/>
<use href="#h" x="499.44" y="232.69"/>
<use href="#h" x="509.97" y="232.69"/>
<use href="#h" x="520.5" y="232.69"/>
<use href="#h" x="531.03" y="232.69"/>
<use href="#h" x="541.56" y="232.69"/>
<use href="#h" x="552.09" y="232.69"/>
<use href="#h" x="562.62" y="232.69"/>
<use href="#h" x="573.15" y="232.69"/>
<use href="#h" x="583.68" y="232.69"/>
<use href="#h" x="594.21" y="232.69"/>
<use href="#h" x="604.74" y="232.69"/>
<use href="#h" x="615.27" y="232.69"/>
<use href="#h" x="625.8" y="232.69"/>
<use href="#h" x="636.33" y="232.69"/>
<use href="#h" x="646.86" y="232.69"/>
<use href="#h" x="657.39" y="232.69"/>
<use href="#h" x="667.92" y="232.69"/>
<use href="#h" x="678.45" y="232.69"/>
<use href="#h" x="688.98" y="232.69"/>
<use href="#h" x="699.51" y="232.69"/>
<use href="#h" x="710.04" y="232.69"/>
<use href="#h" x="720.57" y="232.69"/>
<use href="#h" x="415.2" y="243.22"/>
<use href="#h" x="425.73" y="243.22"/>
<use href="#h" x="436.26" y="243.22"/>
<use href="#h" x="446.79" y="243.22"/>
<use href="#h" x="457.32" y="243.22"/>
<use href="#h" x="467.85" y="243.22"/>
<use href="#h" x="478.38" y="243.22"/>
<use href="#h" x="488.91" y="243.22"/>
<use href="#h" x="499.44" y="243.22"/>
<use href="#h" x="509.97" y="243.22"/>
<use href="#h" x="520.5" y="243.22"/>
<use href="#h" x="531.03" y="243.22"/>
<use href="#h" x="541.56" y="243.22"/>
<use href="#h" x="552.09" y="243.22"/>
<use href="#h" x="562.62" y="243.22"/>
<use href="#h" x="573.15" y="243.22"/>
<use href="#h" x="583.68" y="243.22"/>
<use href="#h" x="594.21" y="243.22"/>
<use href="#h" x="604.74" y="243.22"/>
<use href="#h" x="615.27" y="243.22"/>
<use href="#h" x="625.8" y="243.22"/>
<use href="#h" x="636.33" y="243.22"/>
<use href="#h" x="646.86" y="243.22"/>
<use href="#h" x="657.39" y="243.22"/>
<use href="#h" x="667.92" y="243.22"/>
<use href="#h" x="678.45" y="243.22"/>
<use href="#h" x="688.98" y="243.22"/>
<use href="#h" x="699.51" y="243.22"/>
<use href="#h" x="710.04" y="243.22"/>
<use href="#h" x="720.57" y="243.22"/>
<use href="#h" x="415.2" y="274.8"/>
<use href="#h" x="425.73" y="274.8"/>
<use href="#h" x="436.26" y="274.8"/>
<use href="#h" x="446.79" y="274.8"/>
<use href="#h" x="457.32" y="274.8"/>
<use href="#h" x="467.85" y="274.8"/>
<use href="#h" x="478.38" y="274.8"/>
<use href="#h" x="488.91" y="274.8"/>
<use href="#h" x="499.44" y="274.8"/>
<use href="#h" x="509.97" y="274.8"/>
<use href="#h" x="520.5" y="274.8"/>
<use href="#h" x="531.03" y="274.8"/>
<use href="#h" x="541.56" y="274.8"/>
<use href="#h" x="552.09" y="274.8"/>
<use href="#h" x="562.62" y="274.8"/>
<use href="#h" x="573.15" y="274.8"/>
<use href="#h" x="583.68" y="274.8"/>
<use href="#h" x="594.21" y="274.8"/>
<use href="#h" x="604.74" y="274.8"/>
<use href="#h" x="615.27" y="274.8"/>
<use href="#h" x="625.8" y="274.8"/>
<use href="#h" x="636.33" y="274.8"/>
<use href="#h" x="646.86" y="274.8"/>
<use href="#h" x="657.39" y="274.8"/>
<use href="#h" x="667.92" y="274.8"/>
<use href="#h" x="678.45" y="274.8"/>
<use href="#h" x="688.98" y="274.8"/>
<use href="#h" x="699.51" y="274.8"/>
<use href="#h" x="710.04" y="274.8"/>
<use href="#h" x="720.57" y="274.8"/>
<use href="#h" x="415.2" y="285.33"/>
<use href="#h" x="425.73" y="285.33"/>
<use href="#h" x="436.26" y="285.33"/>
<use href="#h" x="446.79" y="285.33"/>
<use href="#h" x="457.32" y="285.33"/>
<use href="#h" x="467.85" y="285.33"/>
<use href="#h" x="478.38" y="285.33"/>
<use href="#h" x="488.91" y="285.33"/>
<use href="#h" x="499.44" y="285.33"/>
<use href="#h" x="509.97" y="285.33"/>
<use href="#h" x="520.5" y="285.33"/>
<use href="#h" x="531.03" y="285.33"/>
<use href="#h" x="541.56" y="285.33"/>
<use href="#h" x="552.09" y="285.33"/>
<use href="#h" x="562.62" y="285.33"/>
<use href="#h" x="573.15" y="285.33"/>
<use href="#h" x="583.68" y="285.33"/>
<use href="#h" x="594.21" y="285.33"/>
<use href="#h" x="604.74" y="285.33"/>
<use href="#h" x="615.27" y="285.33"/>
<use href="#h" x="625.8" y="285.33"/>
<use href="#h" x="636.33" y="285.33"/>
<use href="#h" x="646.86" y="285.33"/>
<use href="#h" x="657.39" y="285.33"/>
<use href="#h" x="667.92" y="285.33"/>
<use href="#h" x="678.45" y="285.33"/>
<use href="#h" x="688.98" y="285.33"/>
<use href="#h" x="699.51" y="285.33"/>
<use href="#h" x="710.04" y="285.33"/>
<use href="#h" x="720.57" y="285.33"/>
<use href="#h" x="415.2" y="295.86"/>
<use href="#h" x="425.73" y="295.86"/>
<use href="#h" x="436.26" y="295.86"/>
<use href="#h" x="446.79" y="295.86"/>
<use href="#h" x="457.32" y="295.86"/>
<use href="#h" x="467.85" y="295.86"/>
<use href="#h" x="478.38" y="295.86"/>
<use href="#h" x="488.91" y="295.86"/>
<use href="#h" x="499.44" y="295.86"/>
<use href="#h" x="509.97" y="295.86"/>
<use href="#h" x="520.5" y="295.86"/>
<use href="#h" x="531.03" y="295.86"/>
<use href="#h" x="541.56" y="295.86"/>
<use href="#h" x="552.09" y="295.86"/>
<use href="#h" x="562.62" y="295.86"/>
<use href="#h" x="573.15" y="295.86"/>
<use href="#h" x="583.68" y="295.86"/>
<use href="#h" x="594.21" y="295.86"/>
<use href="#h" x="604.74" y="295.86"/>
<use href="#h" x="615.27" y="295.86"/>
<use href="#h" x="625.8" y="295.86"/>
<use href="#h" x="636.33" y="295.86"/>
<use href="#h" x="646.86" y="295.86"/>
<use href="#h" x="657.39" y="295.86"/>
<use href="#h" x="667.92" y="295.86"/>
<use href="#h" x="678.45" y="295.86"/>
<use href="#h" x="688.98" y="295.86"/>
<use href="#h" x="699.51" y="295.86"/>
<use href="#h" x="710.04" y="295.86"/>
<use href="#h" x="720.57" y="295.86"/>
<use href="#h" x="415.2" y="306.39"/>
<use href="#h" x="425.73" y="306.39"/>
<use href="#h" x="436.26" y="306.39"/>
<use href="#h" x="446.79" y="306.39"/>
<use href="#h" x="457.32" y="306.39"/>
<use href="#h" x="467.85" y="306.39"/>
<use href="#h" x="478.38" y="306.39"/>
<use href="#h" x="488.91" y="306.39"/>
<use href="#h" x="499.44" y="306.39"/>
<use href="#h" x="509.97" y="306.39"/>
<use href="#h" x="520.5" y="306.39"/>
<use href="#h" x="531.03" y="306.39"/>
<use href="#h" x="541.56" y="306.39"/>
<use href="#h" x="552.09" y="306.39"/>
<use href="#h" x="562.62" y="306.39"/>
<use href="#h" x="573.15" y="306.39"/>
<use href="#h" x="583.68" y="306.39"/>
<use href="#h" x="594.21" y="306.39"/>
<use href="#h" x="604.74" y="306.39"/>
<use href="#h" x="615.27" y="306.39"/>
<use href="#h" x="625.8" y="306.39"/>
<use href="#h" x="636.33" y="306.39"/>
<use href="#h" x="646.86" y="306.39"/>
<use href="#h" x="657.39" y="306.39"/>
<use href="#h" x="667.92" y="306.39"/>
<use href="#h" x="678.45" y="306.39"/>
<use href="#h" x="688.98" y="306.39"/>
<use href="#h" x="699.51" y="306.39"/>
<use href="#h" x="710.04" y="306.39"/>
<use href="#h" x="720.57" y="306.39"/>
<use href="#h" x="415.2" y="316.92"/>
<use href="#h" x="425.73" y="316.92"/>
<use href="#h" x="436.26" y="316.92"/>
<use href="#h" x="446.79" y="316.92"/>
<use href="#h" x="457.32" y="316.92"/>
<use href="#h" x="467.85" y="316.92"/>
<use href="#h" x="478.38" y="316.92"/>
<use href="#h" x="488.91" y="316.92"/>
<use href="#h" x="499.44" y="316.92"/>
<use href="#h" x="509.97" y="316.92"/>
<use href="#h" x="520.5" y="316.92"/>
<use href="#h" x="531.03" y="316.92"/>
<use href="#h" x="541.56" y="316.92"/>
<use href="#h" x="552.09" y="316.92"/>
<use href="#h" x="562.62" y="316.92"/>
<use href="#h" x="573.15" y="316.92"/>
<use href="#h" x="583.68" y="316.92"/>
<use href="#h" x="594.21" y="316.92"/>
<use href="#h" x="604.74" y="316.92"/>
<use href="#h" x="615.27" y="316.92"/>
<use href="#h" x="625.8" y="316.92"/>
<use href="#h" x="636.33" y="316.92"/>
<use href="#h" x="646.86" y="316.92"/>
<use href="#h" x="657.39" y="316.92"/>
<use href="#h" x="667.92" y="316.92"/>
<use href="#h" x="678.45" y="316.92"/>
<use href="#h" x="688.98" y="316.92"/>
<use href="#h" x="699.51" y="316.92"/>
<use href="#h" x="710.04" y="316.92"/>
<use href="#h" x="720.57" y="316.92"/>
<use href="#h" x="415.2" y="348.5"/>
<use href="#h" x="425.73" y="348.5"/>
<use href="#h" x="436.26" y="348.5"/>
<use href="#h" x="446.79" y="348.5"/>
<use href="#h" x="457.32" y="348.5"/>
<use href="#h" x="467.85" y="348.5"/>
<use href="#h" x="478.38" y="348.5"/>
<use href="#h" x="488.91" y="348.5"/>
<use href="#h" x="499.44" y="348.5"/>
<use href="#h" x="509.97" y="348.5"/>
<use href="#h" x="520.5" y="348.5"/>
<use href="#h" x="531.03" y="348.5"/>
<use href="#h" x="541.56" y="348.5"/>
<use href="#h" x="552.09" y="348.5"/>
<use href="#h" x="562.62" y="348.5"/>
<use href="#h" x="573.15" y="348.5"/>
<use href="#h" x="583.68" y="348.5"/>
<use href="#h" x="594.21" y="348.5"/>
<use href="#h" x="604.74" y="348.5"/>
<use href="#h" x="615.27" y="348.5"/>
<use href="#h" x="625.8" y="348.5"/>
<use href="#h" x="636.33" y="348.5"/>
<use href="#h" x="646.86" y="348.5"/>
<use href="#h" x="657.39" y="348.5"/>
<use href="#h" x="667.92" y="348.5"/>
<use href="#h" x="678.45" y="348.5"/>
<use href="#h" x="688.98" y="348.5"/>
<use href="#h" x="699.51" y="348.5"/>
<use href="#h" x="710.04" y="348.5"/>
<use href="#h" x="720.57" y="348.5"/>
<use href="#h" x="415.2" y="358.9"/>
<use href="#h" x="425.73" y="358.9"/>
<use href="#h" x="436.26" y="358.9"/>
<use href="#h" x="446.79" y="358.9"/>
<use href="#h" x="457.32" y="358.9"/>
<use href="#h" x="467.85" y="358.9"/>
<use href="#h" x="478.38" y="358.9"/>
<use href="#h" x="488.91" y="358.9"/>
<use href="#h" x="499.44" y="358.9"/>
<use href="#h" x="509.97" y="358.9"/>
<use href="#h" x="520.5" y="358.9"/>
<use href="#h" x="531.03" y="358.9"/>
<use href="#h" x="541.56" y="358.9"/>
<use href="#h" x="552.09" y="358.9"/>
<use href="#h" x="562.62" y="358.9"/>
<use href="#h" x="573.15" y="358.9"/>
<use href="#h" x="583.68" y="358.9"/>
<use href="#h" x="594.21" y="358.9"/>
<use href="#h" x="604.74" y="358.9"/>
<use href="#h" x="615.27" y="358.9"/>
<use href="#h" x="625.8" y="358.9"/>
<use href="#h" x="636.33" y="358.9"/>
<use href="#h" x="646.86" y="358.9"/>
<use href="#h" x="657.39" y="358.9"/>
<use href="#h" x="667.92" y="358.9"/>
<use href="#h" x="678.45" y="358.9"/>
<use href="#h" x="688.98" y="358.9"/>
<use href="#h" x="699.51" y="358.9"/>
<use href="#h" x="710.04" y="358.9"/>
<use href="#h" x="720.57" y="358.9"/>
<text transform="translate(417.4,191.3) rotate(-90) scale(1.15,1)" text-anchor="middle" font-size="6.3" fill="#4a4a4a" stroke="#4a4a4a" stroke-width="0.12">1</text>
<text transform="translate(417.4,326.2) rotate(-90) scale(1.15,1)" text-anchor="middle" font-size="6.3" fill="#4a4a4a" stroke="#4a4a4a" stroke-width="0.12">1</text>
<text transform="translate(427.93,191.3) rotate(-90) scale(1.15,1)" text-anchor="middle" font-size="6.3" fill="#4a4a4a" stroke="#4a4a4a" stroke-width="0.12">2</text>
<text transform="translate(427.93,326.2) rotate(-90) scale(1.15,1)" text-anchor="middle" font-size="6.3" fill="#4a4a4a" stroke="#4a4a4a" stroke-width="0.12">2</text>
<text transform="translate(438.46,191.3) rotate(-90) scale(1.15,1)" text-anchor="middle" font-size="6.3" fill="#4a4a4a" stroke="#4a4a4a" stroke-width="0.12">3</text>
<text transform="translate(438.46,326.2) rotate(-90) scale(1.15,1)" text-anchor="middle" font-size="6.3" fill="#4a4a4a" stroke="#4a4a4a" stroke-width="0.12">3</text>
<text transform="translate(448.99,191.3) rotate(-90) scale(1.15,1)" text-anchor="middle" font-size="6.3" fill="#4a4a4a" stroke="#4a4a4a" stroke-width="0.12">4</text>
<text transform="translate(448.99,326.2) rotate(-90) scale(1.15,1)" text-anchor="middle" font-size="6.3" fill="#4a4a4a" stroke="#4a4a4a" stroke-width="0.12">4</text>
<text transform="translate(459.52,191.3) rotate(-90) scale(1.15,1)" text-anchor="middle" font-size="6.3" fill="#4a4a4a" stroke="#4a4a4a" stroke-width="0.12">5</text>
<text transform="translate(459.52,326.2) rotate(-90) scale(1.15,1)" text-anchor="middle" font-size="6.3" fill="#4a4a4a" stroke="#4a4a4a" stroke-width="0.12">5</text>
<text transform="translate(470.05,191.3) rotate(-90) scale(1.15,1)" text-anchor="middle" font-size="6.3" fill="#4a4a4a" stroke="#4a4a4a" stroke-width="0.12">6</text>
<text transform="translate(470.05,326.2) rotate(-90) scale(1.15,1)" text-anchor="middle" font-size="6.3" fill="#4a4a4a" stroke="#4a4a4a" stroke-width="0.12">6</text>
<text transform="translate(480.58,191.3) rotate(-90) scale(1.15,1)" text-anchor="middle" font-size="6.3" fill="#4a4a4a" stroke="#4a4a4a" stroke-width="0.12">7</text>
<text transform="translate(480.58,326.2) rotate(-90) scale(1.15,1)" text-anchor="middle" font-size="6.3" fill="#4a4a4a" stroke="#4a4a4a" stroke-width="0.12">7</text>
<text transform="translate(491.11,191.3) rotate(-90) scale(1.15,1)" text-anchor="middle" font-size="6.3" fill="#4a4a4a" stroke="#4a4a4a" stroke-width="0.12">8</text>
<text transform="translate(491.11,326.2) rotate(-90) scale(1.15,1)" text-anchor="middle" font-size="6.3" fill="#4a4a4a" stroke="#4a4a4a" stroke-width="0.12">8</text>
<text transform="translate(501.64,191.3) rotate(-90) scale(1.15,1)" text-anchor="middle" font-size="6.3" fill="#4a4a4a" stroke="#4a4a4a" stroke-width="0.12">9</text>
<text transform="translate(501.64,326.2) rotate(-90) scale(1.15,1)" text-anchor="middle" font-size="6.3" fill="#4a4a4a" stroke="#4a4a4a" stroke-width="0.12">9</text>
<text transform="translate(512.17,191.3) rotate(-90) scale(1.15,1)" text-anchor="middle" font-size="6.3" fill="#4a4a4a" stroke="#4a4a4a" stroke-width="0.12">10</text>
<text transform="translate(512.17,326.2) rotate(-90) scale(1.15,1)" text-anchor="middle" font-size="6.3" fill="#4a4a4a" stroke="#4a4a4a" stroke-width="0.12">10</text>
<text transform="translate(522.7,191.3) rotate(-90) scale(1.15,1)" text-anchor="middle" font-size="6.3" fill="#4a4a4a" stroke="#4a4a4a" stroke-width="0.12">11</text>
<text transform="translate(522.7,326.2) rotate(-90) scale(1.15,1)" text-anchor="middle" font-size="6.3" fill="#4a4a4a" stroke="#4a4a4a" stroke-width="0.12">11</text>
<text transform="translate(533.23,191.3) rotate(-90) scale(1.15,1)" text-anchor="middle" font-size="6.3" fill="#4a4a4a" stroke="#4a4a4a" stroke-width="0.12">12</text>
<text transform="translate(533.23,326.2) rotate(-90) scale(1.15,1)" text-anchor="middle" font-size="6.3" fill="#4a4a4a" stroke="#4a4a4a" stroke-width="0.12">12</text>
<text transform="translate(543.76,191.3) rotate(-90) scale(1.15,1)" text-anchor="middle" font-size="6.3" fill="#4a4a4a" stroke="#4a4a4a" stroke-width="0.12">13</text>
<text transform="translate(543.76,326.2) rotate(-90) scale(1.15,1)" text-anchor="middle" font-size="6.3" fill="#4a4a4a" stroke="#4a4a4a" stroke-width="0.12">13</text>
<text transform="translate(554.29,191.3) rotate(-90) scale(1.15,1)" text-anchor="middle" font-size="6.3" fill="#4a4a4a" stroke="#4a4a4a" stroke-width="0.12">14</text>
<text transform="translate(554.29,326.2) rotate(-90) scale(1.15,1)" text-anchor="middle" font-size="6.3" fill="#4a4a4a" stroke="#4a4a4a" stroke-width="0.12">14</text>
<text transform="translate(564.82,191.3) rotate(-90) scale(1.15,1)" text-anchor="middle" font-size="6.3" fill="#4a4a4a" stroke="#4a4a4a" stroke-width="0.12">15</text>
<text transform="translate(564.82,326.2) rotate(-90) scale(1.15,1)" text-anchor="middle" font-size="6.3" fill="#4a4a4a" stroke="#4a4a4a" stroke-width="0.12">15</text>
<text transform="translate(575.35,191.3) rotate(-90) scale(1.15,1)" text-anchor="middle" font-size="6.3" fill="#4a4a4a" stroke="#4a4a4a" stroke-width="0.12">16</text>
<text transform="translate(575.35,326.2) rotate(-90) scale(1.15,1)" text-anchor="middle" font-size="6.3" fill="#4a4a4a" stroke="#4a4a4a" stroke-width="0.12">16</text>
<text transform="translate(585.88,191.3) rotate(-90) scale(1.15,1)" text-anchor="middle" font-size="6.3" fill="#4a4a4a" stroke="#4a4a4a" stroke-width="0.12">17</text>
<text transform="translate(585.88,326.2) rotate(-90) scale(1.15,1)" text-anchor="middle" font-size="6.3" fill="#4a4a4a" stroke="#4a4a4a" stroke-width="0.12">17</text>
<text transform="translate(596.41,191.3) rotate(-90) scale(1.15,1)" text-anchor="middle" font-size="6.3" fill="#4a4a4a" stroke="#4a4a4a" stroke-width="0.12">18</text>
<text transform="translate(596.41,326.2) rotate(-90) scale(1.15,1)" text-anchor="middle" font-size="6.3" fill="#4a4a4a" stroke="#4a4a4a" stroke-width="0.12">18</text>
<text transform="translate(606.94,191.3) rotate(-90) scale(1.15,1)" text-anchor="middle" font-size="6.3" fill="#4a4a4a" stroke="#4a4a4a" stroke-width="0.12">19</text>
<text transform="translate(606.94,326.2) rotate(-90) scale(1.15,1)" text-anchor="middle" font-size="6.3" fill="#4a4a4a" stroke="#4a4a4a" stroke-width="0.12">19</text>
<text transform="translate(617.47,191.3) rotate(-90) scale(1.15,1)" text-anchor="middle" font-size="6.3" fill="#4a4a4a" stroke="#4a4a4a" stroke-width="0.12">20</text>
<text transform="translate(617.47,326.2) rotate(-90) scale(1.15,1)" text-anchor="middle" font-size="6.3" fill="#4a4a4a" stroke="#4a4a4a" stroke-width="0.12">20</text>
<text transform="translate(628,191.3) rotate(-90) scale(1.15,1)" text-anchor="middle" font-size="6.3" fill="#4a4a4a" stroke="#4a4a4a" stroke-width="0.12">21</text>
<text transform="translate(628,326.2) rotate(-90) scale(1.15,1)" text-anchor="middle" font-size="6.3" fill="#4a4a4a" stroke="#4a4a4a" stroke-width="0.12">21</text>
<text transform="translate(638.53,191.3) rotate(-90) scale(1.15,1)" text-anchor="middle" font-size="6.3" fill="#4a4a4a" stroke="#4a4a4a" stroke-width="0.12">22</text>
<text transform="translate(638.53,326.2) rotate(-90) scale(1.15,1)" text-anchor="middle" font-size="6.3" fill="#4a4a4a" stroke="#4a4a4a" stroke-width="0.12">22</text>
<text transform="translate(649.06,191.3) rotate(-90) scale(1.15,1)" text-anchor="middle" font-size="6.3" fill="#4a4a4a" stroke="#4a4a4a" stroke-width="0.12">23</text>
<text transform="translate(649.06,326.2) rotate(-90) scale(1.15,1)" text-anchor="middle" font-size="6.3" fill="#4a4a4a" stroke="#4a4a4a" stroke-width="0.12">23</text>
<text transform="translate(659.59,191.3) rotate(-90) scale(1.15,1)" text-anchor="middle" font-size="6.3" fill="#4a4a4a" stroke="#4a4a4a" stroke-width="0.12">24</text>
<text transform="translate(659.59,326.2) rotate(-90) scale(1.15,1)" text-anchor="middle" font-size="6.3" fill="#4a4a4a" stroke="#4a4a4a" stroke-width="0.12">24</text>
<text transform="translate(670.12,191.3) rotate(-90) scale(1.15,1)" text-anchor="middle" font-size="6.3" fill="#4a4a4a" stroke="#4a4a4a" stroke-width="0.12">25</text>
<text transform="translate(670.12,326.2) rotate(-90) scale(1.15,1)" text-anchor="middle" font-size="6.3" fill="#4a4a4a" stroke="#4a4a4a" stroke-width="0.12">25</text>
<text transform="translate(680.65,191.3) rotate(-90) scale(1.15,1)" text-anchor="middle" font-size="6.3" fill="#4a4a4a" stroke="#4a4a4a" stroke-width="0.12">26</text>
<text transform="translate(680.65,326.2) rotate(-90) scale(1.15,1)" text-anchor="middle" font-size="6.3" fill="#4a4a4a" stroke="#4a4a4a" stroke-width="0.12">26</text>
<text transform="translate(691.18,191.3) rotate(-90) scale(1.15,1)" text-anchor="middle" font-size="6.3" fill="#4a4a4a" stroke="#4a4a4a" stroke-width="0.12">27</text>
<text transform="translate(691.18,326.2) rotate(-90) scale(1.15,1)" text-anchor="middle" font-size="6.3" fill="#4a4a4a" stroke="#4a4a4a" stroke-width="0.12">27</text>
<text transform="translate(701.71,191.3) rotate(-90) scale(1.15,1)" text-anchor="middle" font-size="6.3" fill="#4a4a4a" stroke="#4a4a4a" stroke-width="0.12">28</text>
<text transform="translate(701.71,326.2) rotate(-90) scale(1.15,1)" text-anchor="middle" font-size="6.3" fill="#4a4a4a" stroke="#4a4a4a" stroke-width="0.12">28</text>
<text transform="translate(712.24,191.3) rotate(-90) scale(1.15,1)" text-anchor="middle" font-size="6.3" fill="#4a4a4a" stroke="#4a4a4a" stroke-width="0.12">29</text>
<text transform="translate(712.24,326.2) rotate(-90) scale(1.15,1)" text-anchor="middle" font-size="6.3" fill="#4a4a4a" stroke="#4a4a4a" stroke-width="0.12">29</text>
<text transform="translate(722.77,191.3) rotate(-90) scale(1.15,1)" text-anchor="middle" font-size="6.3" fill="#4a4a4a" stroke="#4a4a4a" stroke-width="0.12">30</text>
<text transform="translate(722.77,326.2) rotate(-90) scale(1.15,1)" text-anchor="middle" font-size="6.3" fill="#4a4a4a" stroke="#4a4a4a" stroke-width="0.12">30</text>
<text transform="translate(407.3,201.1) rotate(-90) scale(0.88,1)" text-anchor="middle" font-size="9.6" fill="#505050">j</text>
<text transform="translate(734,201.1) rotate(-90) scale(0.88,1)" text-anchor="middle" font-size="9.6" fill="#505050">j</text>
<text transform="translate(407.3,211.63) rotate(-90) scale(0.88,1)" text-anchor="middle" font-size="9.6" fill="#505050">i</text>
<text transform="translate(734,211.63) rotate(-90) scale(0.88,1)" text-anchor="middle" font-size="9.6" fill="#505050">i</text>
<text transform="translate(407.3,222.16) rotate(-90) scale(0.88,1)" text-anchor="middle" font-size="9.6" fill="#505050">h</text>
<text transform="translate(734,222.16) rotate(-90) scale(0.88,1)" text-anchor="middle" font-size="9.6" fill="#505050">h</text>
<text transform="translate(407.3,232.69) rotate(-90) scale(0.88,1)" text-anchor="middle" font-size="9.6" fill="#505050">g</text>
<text transform="translate(734,232.69) rotate(-90) scale(0.88,1)" text-anchor="middle" font-size="9.6" fill="#505050">g</text>
<text transform="translate(407.3,243.22) rotate(-90) scale(0.88,1)" text-anchor="middle" font-size="9.6" fill="#505050">f</text>
<text transform="translate(734,243.22) rotate(-90) scale(0.88,1)" text-anchor="middle" font-size="9.6" fill="#505050">f</text>
<text transform="translate(407.3,274.8) rotate(-90) scale(0.88,1)" text-anchor="middle" font-size="9.6" fill="#505050">e</text>
<text transform="translate(734,274.8) rotate(-90) scale(0.88,1)" text-anchor="middle" font-size="9.6" fill="#505050">e</text>
<text transform="translate(407.3,285.33) rotate(-90) scale(0.88,1)" text-anchor="middle" font-size="9.6" fill="#505050">d</text>
<text transform="translate(734,285.33) rotate(-90) scale(0.88,1)" text-anchor="middle" font-size="9.6" fill="#505050">d</text>
<text transform="translate(407.3,295.86) rotate(-90) scale(0.88,1)" text-anchor="middle" font-size="9.6" fill="#505050">c</text>
<text transform="translate(734,295.86) rotate(-90) scale(0.88,1)" text-anchor="middle" font-size="9.6" fill="#505050">c</text>
<text transform="translate(407.3,306.39) rotate(-90) scale(0.88,1)" text-anchor="middle" font-size="9.6" fill="#505050">b</text>
<text transform="translate(734,306.39) rotate(-90) scale(0.88,1)" text-anchor="middle" font-size="9.6" fill="#505050">b</text>
<text transform="translate(407.3,316.92) rotate(-90) scale(0.88,1)" text-anchor="middle" font-size="9.6" fill="#505050">a</text>
<text transform="translate(734,316.92) rotate(-90) scale(0.88,1)" text-anchor="middle" font-size="9.6" fill="#505050">a</text>
<path d="M478.38,243.22 L479.49,404" fill="none" stroke="#c46800" stroke-width="2.8" stroke-linecap="round" stroke-linejoin="round"/>
<path d="M478.38,243.22 L479.49,404" fill="none" stroke="#f08000" stroke-width="1.9" stroke-linecap="round" stroke-linejoin="round"/>
<path d="M499.44,243.22 L500.55,404" fill="none" stroke="#caaf00" stroke-width="2.8" stroke-linecap="round" stroke-linejoin="round"/>
<path d="M499.44,243.22 L500.55,404" fill="none" stroke="#f7d600" stroke-width="1.9" stroke-linecap="round" stroke-linejoin="round"/>
<path d="M552.09,243.22 L553.2,404" fill="none" stroke="#329432" stroke-width="2.8" stroke-linecap="round" stroke-linejoin="round"/>
<path d="M552.09,243.22 L553.2,404" fill="none" stroke="#3db53d" stroke-width="1.9" stroke-linecap="round" stroke-linejoin="round"/>
<path d="M562.62,243.22 L563.73,404" fill="none" stroke="#5aa4b2" stroke-width="2.8" stroke-linecap="round" stroke-linejoin="round"/>
<path d="M562.62,243.22 L563.73,404" fill="none" stroke="#6ec8da" stroke-width="1.9" stroke-linecap="round" stroke-linejoin="round"/>
<path d="M573.15,243.22 L574.26,404" fill="none" stroke="#137cae" stroke-width="2.8" stroke-linecap="round" stroke-linejoin="round"/>
<path d="M573.15,243.22 L574.26,404" fill="none" stroke="#1898d5" stroke-width="1.9" stroke-linecap="round" stroke-linejoin="round"/>
<path d="M583.68,243.22 L584.79,404" fill="none" stroke="#642f7f" stroke-width="2.8" stroke-linecap="round" stroke-linejoin="round"/>
<path d="M583.68,243.22 L584.79,404" fill="none" stroke="#7a3a9b" stroke-width="1.9" stroke-linecap="round" stroke-linejoin="round"/>
<path d="M594.21,169.2 L594.21,201.1" fill="none" stroke="#ba1616" stroke-width="2.8" stroke-linecap="round" stroke-linejoin="round"/>
<path d="M594.21,169.2 L594.21,201.1" fill="none" stroke="#e41b1b" stroke-width="1.9" stroke-linecap="round" stroke-linejoin="round"/>
<path d="M646.86,169.2 L646.86,201.1" fill="none" stroke="#ba1616" stroke-width="2.8" stroke-linecap="round" stroke-linejoin="round"/>
<path d="M646.86,169.2 L646.86,201.1" fill="none" stroke="#e41b1b" stroke-width="1.9" stroke-linecap="round" stroke-linejoin="round"/>
<path d="M657.39,158.7 L657.39,232.69" fill="none" stroke="#292c2d" stroke-width="2.8" stroke-linecap="round" stroke-linejoin="round"/>
<path d="M657.39,158.7 L657.39,232.69" fill="none" stroke="#333638" stroke-width="1.9" stroke-linecap="round" stroke-linejoin="round"/>
<path d="M720.57,169.2 L720.57,358.9" fill="none" stroke="#ba1616" stroke-width="2.8" stroke-linecap="round" stroke-linejoin="round"/>
<path d="M720.57,169.2 L720.57,358.9" fill="none" stroke="#e41b1b" stroke-width="1.9" stroke-linecap="round" stroke-linejoin="round"/>
<path d="M710.04,158.7 L710.04,348.5" fill="none" stroke="#292c2d" stroke-width="2.8" stroke-linecap="round" stroke-linejoin="round"/>
<path d="M710.04,158.7 L710.04,348.5" fill="none" stroke="#333638" stroke-width="1.9" stroke-linecap="round" stroke-linejoin="round"/>
<path d="M699.51,158.7 L770,157.8" fill="none" stroke="#292c2d" stroke-width="2.8" stroke-linecap="round" stroke-linejoin="round"/>
<path d="M699.51,158.7 L770,157.8" fill="none" stroke="#333638" stroke-width="1.9" stroke-linecap="round" stroke-linejoin="round"/>
<path d="M710.04,200.9 L770,199.4" fill="none" stroke="#292c2d" stroke-width="2.8" stroke-linecap="round" stroke-linejoin="round"/>
<path d="M710.04,200.9 L770,199.4" fill="none" stroke="#333638" stroke-width="1.9" stroke-linecap="round" stroke-linejoin="round"/>
<path d="M425.73,316.92 L425.73,358.9" fill="none" stroke="#ba1616" stroke-width="2.8" stroke-linecap="round" stroke-linejoin="round"/>
<path d="M425.73,316.92 L425.73,358.9" fill="none" stroke="#e41b1b" stroke-width="1.9" stroke-linecap="round" stroke-linejoin="round"/>
<path d="M446.79,295.86 L447.9,404" fill="none" stroke="#292c2d" stroke-width="2.8" stroke-linecap="round" stroke-linejoin="round"/>
<path d="M446.79,295.86 L447.9,404" fill="none" stroke="#333638" stroke-width="1.9" stroke-linecap="round" stroke-linejoin="round"/>
<path d="M457.32,358.9 L458.43,404" fill="none" stroke="#ba1616" stroke-width="2.8" stroke-linecap="round" stroke-linejoin="round"/>
<path d="M457.32,358.9 L458.43,404" fill="none" stroke="#e41b1b" stroke-width="1.9" stroke-linecap="round" stroke-linejoin="round"/>
<path d="M488.91,348.5 L490.02,404" fill="none" stroke="#292c2d" stroke-width="2.8" stroke-linecap="round" stroke-linejoin="round"/>
<path d="M488.91,348.5 L490.02,404" fill="none" stroke="#333638" stroke-width="1.9" stroke-linecap="round" stroke-linejoin="round"/>
<path d="M604.74,348.5 L605.85,404" fill="none" stroke="#292c2d" stroke-width="2.8" stroke-linecap="round" stroke-linejoin="round"/>
<path d="M604.74,348.5 L605.85,404" fill="none" stroke="#333638" stroke-width="1.9" stroke-linecap="round" stroke-linejoin="round"/>
<path d="M436.26,316.92 L455.75,327.2 Q462,330.5 465.65,336.55 L465.65,336.55 Q469.3,342.6 469.26,349.67 L468.96,404" fill="none" stroke="#ad267f" stroke-width="2.8" stroke-linecap="round" stroke-linejoin="round"/>
<path d="M436.26,316.92 L455.75,327.2 Q462,330.5 465.65,336.55 L465.65,336.55 Q469.3,342.6 469.26,349.67 L468.96,404" fill="none" stroke="#d42f9c" stroke-width="1.9" stroke-linecap="round" stroke-linejoin="round"/>
<path d="M604.74,222.16 L595.32,404" fill="none" stroke="#895e33" stroke-width="2.8" stroke-linecap="round" stroke-linejoin="round"/>
<path d="M604.74,222.16 L595.32,404" fill="none" stroke="#a8733f" stroke-width="1.9" stroke-linecap="round" stroke-linejoin="round"/>
<path d="M187,370 L187,357.5 Q187,350.5 194,350.5 L412.45,350.5 Q413.7,350.5 414.45,349.5 L415.2,348.5" fill="none" stroke="#292c2d" stroke-width="2.8" stroke-linecap="round" stroke-linejoin="round"/>
<path d="M187,370 L187,357.5 Q187,350.5 194,350.5 L412.45,350.5 Q413.7,350.5 414.45,349.5 L415.2,348.5" fill="none" stroke="#333638" stroke-width="1.9" stroke-linecap="round" stroke-linejoin="round"/>
<path d="M176.4,370 L176.4,379.15 Q176.4,388.3 185.55,388.3 L405.2,388.3 Q415.2,388.3 415.2,378.3 L415.2,358.9" fill="none" stroke="#ba1616" stroke-width="2.8" stroke-linecap="round" stroke-linejoin="round"/>
<path d="M176.4,370 L176.4,379.15 Q176.4,388.3 185.55,388.3 L405.2,388.3 Q415.2,388.3 415.2,378.3 L415.2,358.9" fill="none" stroke="#e41b1b" stroke-width="1.9" stroke-linecap="round" stroke-linejoin="round"/>
<path d="M424.73,284 L426.73,284 L426.73,294.5 L425.73,296.5 L424.73,294.5 Z" fill="#8e8e8e"/>
<path d="M435.26,284 L437.26,284 L437.26,294.5 L436.26,296.5 L435.26,294.5 Z" fill="#8e8e8e"/>
<path d="M445.79,284 L447.79,284 L447.79,294.5 L446.79,296.5 L445.79,294.5 Z" fill="#8e8e8e"/>
<circle cx="436.3" cy="265.2" r="25" fill="#1c2f40" opacity="0.35"/>
<circle cx="436.3" cy="264.2" r="25" fill="#29465d"/>
<circle cx="436.3" cy="264.2" r="18.9" fill="#1b3043"/>
<circle cx="436.3" cy="264.2" r="17.6" fill="#3f6d99"/>
<path d="M451.5,264.2L454.3,264.2M451.43,265.69L454.21,265.96M451.21,267.17L453.95,267.71M450.85,268.61L453.52,269.43M450.34,270.02L452.93,271.09M449.71,271.37L452.17,272.69M448.94,272.64L451.27,274.2M448.05,273.84L450.21,275.62M447.05,274.95L449.03,276.93M445.94,275.95L447.72,278.11M444.74,276.84L446.3,279.17M443.47,277.61L444.79,280.07M442.12,278.24L443.19,280.83M440.71,278.75L441.53,281.42M439.27,279.11L439.81,281.85M437.79,279.33L438.06,282.11M436.3,279.4L436.3,282.2M434.81,279.33L434.54,282.11M433.33,279.11L432.79,281.85M431.89,278.75L431.07,281.42M430.48,278.24L429.41,280.83M429.13,277.61L427.81,280.07M427.86,276.84L426.3,279.17M426.66,275.95L424.88,278.11M425.55,274.95L423.57,276.93M424.55,273.84L422.39,275.62M423.66,272.64L421.33,274.2M422.89,271.37L420.43,272.69M422.26,270.02L419.67,271.09M421.75,268.61L419.08,269.43M421.39,267.17L418.65,267.71M421.17,265.69L418.39,265.96M421.1,264.2L418.3,264.2M421.17,262.71L418.39,262.44M421.39,261.23L418.65,260.69M421.75,259.79L419.08,258.97M422.26,258.38L419.67,257.31M422.89,257.03L420.43,255.71M423.66,255.76L421.33,254.2M424.55,254.56L422.39,252.78M425.55,253.45L423.57,251.47M426.66,252.45L424.88,250.29M427.86,251.56L426.3,249.23M429.13,250.79L427.81,248.33M430.48,250.16L429.41,247.57M431.89,249.65L431.07,246.98M433.33,249.29L432.79,246.55M434.81,249.07L434.54,246.29M436.3,249L436.3,246.2M437.79,249.07L438.06,246.29M439.27,249.29L439.81,246.55M440.71,249.65L441.53,246.98M442.12,250.16L443.19,247.57M443.47,250.79L444.79,248.33M444.74,251.56L446.3,249.23M445.94,252.45L447.72,250.29M447.05,253.45L449.03,251.47M448.05,254.56L450.21,252.78M448.94,255.76L451.27,254.2M449.71,257.03L452.17,255.71M450.34,258.38L452.93,257.31M450.85,259.79L453.52,258.97M451.21,261.23L453.95,260.69M451.43,262.71L454.21,262.44" stroke="#12273a" stroke-width="0.95"/>
<circle cx="436.3" cy="264.2" r="15.7" fill="#6697cc"/>
<circle cx="458.5" cy="264.2" r="1.1" fill="#5d97c8"/>
<circle cx="452" cy="279.9" r="1.1" fill="#5d97c8"/>
<circle cx="420.6" cy="279.9" r="1.1" fill="#5d97c8"/>
<circle cx="414.1" cy="264.2" r="1.1" fill="#5d97c8"/>
<circle cx="420.6" cy="248.5" r="1.1" fill="#5d97c8"/>
<circle cx="436.3" cy="242" r="1.1" fill="#5d97c8"/>
<circle cx="452" cy="248.5" r="1.1" fill="#5d97c8"/>
<path d="M438.77,268.82 L440.24,267.18 L450.57,275.39 L448.03,278.21 Z" fill="#15283a" stroke="#15283a" stroke-width="0.6" stroke-linejoin="round"/>
<line x1="604.74" y1="169.2" x2="604.74" y2="205.3" stroke="#8a8a8a" stroke-width="1.6" stroke-linecap="round"/>
<path d="M604.74,175.4 L609.64,179.9 L609.64,184.4 L608.44,185.9 L608.44,194.8 L609.64,196.3 L609.64,200.8 L604.74,205.3 L599.84,200.8 L599.84,196.3 L601.04,194.8 L601.04,185.9 L599.84,184.4 L599.84,179.9 Z" fill="#e3b878" stroke="#d9ab68" stroke-width="0.4" stroke-linejoin="round"/>
<rect x="599.84" y="180.6" width="9.8" height="2.6" fill="#ec1c1c"/>
<rect x="601.04" y="186" width="7.4" height="2.4" fill="#ec1c1c"/>
<rect x="601.04" y="191.4" width="7.4" height="2.4" fill="#8b4513"/>
<rect x="600.54" y="200" width="8.4" height="1" fill="#c9b84a"/>
<line x1="594.21" y1="211.63" x2="636.33" y2="211.63" stroke="#8a8a8a" stroke-width="1.6" stroke-linecap="round"/>
<path d="M599.21,211.63 L604.21,206.73 L608.21,206.73 L609.71,207.93 L620.63,207.93 L622.13,206.73 L626.13,206.73 L631.13,211.63 L626.13,216.53 L622.13,216.53 L620.63,215.33 L609.71,215.33 L608.21,216.53 L604.21,216.53 Z" fill="#e3b878" stroke="#d9ab68" stroke-width="0.4" stroke-linejoin="round"/>
<rect x="604.51" y="207.43" width="1" height="8.4" fill="#c9b84a"/>
<rect x="612.61" y="207.93" width="2.4" height="7.4" fill="#ec1c1c"/>
<rect x="617.81" y="207.93" width="2.6" height="7.4" fill="#111"/>
<rect x="623.21" y="206.73" width="2.4" height="9.8" fill="#8b4513"/>
<line x1="646.86" y1="222.16" x2="688.98" y2="222.16" stroke="#8a8a8a" stroke-width="1.6" stroke-linecap="round"/>
<path d="M651.86,222.16 L656.86,217.26 L660.86,217.26 L662.36,218.46 L673.28,218.46 L674.78,217.26 L678.78,217.26 L683.78,222.16 L678.78,227.06 L674.78,227.06 L673.28,225.86 L662.36,225.86 L660.86,227.06 L656.86,227.06 Z" fill="#e3b878" stroke="#d9ab68" stroke-width="0.4" stroke-linejoin="round"/>
<rect x="658.16" y="217.96" width="1" height="8.4" fill="#c9b84a"/>
<rect x="665.06" y="218.46" width="2.4" height="7.4" fill="#ec1c1c"/>
<rect x="670.16" y="218.46" width="2.7" height="7.4" fill="#111"/>
<rect x="675.86" y="217.26" width="2.4" height="9.8" fill="#8b4513"/>
<path d="M635.03,241.22 L637.63,241.22 L637.63,243.82 L636.33,245.22 L635.03,243.82 Z" fill="#8c8c8c"/>
<path d="M635.03,272.8 L637.63,272.8 L637.63,275.4 L636.33,276.8 L635.03,275.4 Z" fill="#8c8c8c"/>
<path d="M656.09,241.22 L658.69,241.22 L658.69,243.82 L657.39,245.22 L656.09,243.82 Z" fill="#8c8c8c"/>
<path d="M656.09,272.8 L658.69,272.8 L658.69,275.4 L657.39,276.8 L656.09,275.4 Z" fill="#8c8c8c"/>
<rect x="634.06" y="245.9" width="25.6" height="25.6" rx="1" fill="#c7c7c7" stroke="#bcbcbc" stroke-width="0.5"/>
<circle cx="637.86" cy="249.7" r="2.6" fill="#4d4d4d"/>
<circle cx="637.86" cy="267.7" r="2.6" fill="#4d4d4d"/>
<circle cx="655.86" cy="249.7" r="2.6" fill="#4d4d4d"/>
<circle cx="655.86" cy="267.7" r="2.6" fill="#4d4d4d"/>
<circle cx="646.86" cy="260.3" r="7.1" fill="#777" opacity="0.55"/>
<circle cx="646.86" cy="258.7" r="7.1" fill="#333"/>
<path d="M687.68,241.22 L690.28,241.22 L690.28,243.82 L688.98,245.22 L687.68,243.82 Z" fill="#8c8c8c"/>
<path d="M687.68,272.8 L690.28,272.8 L690.28,275.4 L688.98,276.8 L687.68,275.4 Z" fill="#8c8c8c"/>
<path d="M708.74,241.22 L711.34,241.22 L711.34,243.82 L710.04,245.22 L708.74,243.82 Z" fill="#8c8c8c"/>
<path d="M708.74,272.8 L711.34,272.8 L711.34,275.4 L710.04,276.8 L708.74,275.4 Z" fill="#8c8c8c"/>
<rect x="686.71" y="245.9" width="25.6" height="25.6" rx="1" fill="#c7c7c7" stroke="#bcbcbc" stroke-width="0.5"/>
<circle cx="690.51" cy="249.7" r="2.6" fill="#4d4d4d"/>
<circle cx="690.51" cy="267.7" r="2.6" fill="#4d4d4d"/>
<circle cx="708.51" cy="249.7" r="2.6" fill="#4d4d4d"/>
<circle cx="708.51" cy="267.7" r="2.6" fill="#4d4d4d"/>
<circle cx="699.51" cy="260.3" r="7.1" fill="#777" opacity="0.55"/>
<circle cx="699.51" cy="258.7" r="7.1" fill="#333"/>
<path d="M148.9,170 L148.9,106.8 Q148.9,96.8 158.9,96.8 L468.38,96.8 Q478.38,96.8 478.38,106.8 L478.38,201.1" fill="none" stroke="#c46800" stroke-width="2.8" stroke-linecap="round" stroke-linejoin="round"/>
<path d="M148.9,170 L148.9,106.8 Q148.9,96.8 158.9,96.8 L468.38,96.8 Q478.38,96.8 478.38,106.8 L478.38,201.1" fill="none" stroke="#f08000" stroke-width="1.9" stroke-linecap="round" stroke-linejoin="round"/>
<path d="M159.5,170 L159.5,120.5 Q159.5,110.5 169.5,110.5 L489.44,110.5 Q499.44,110.5 499.44,120.5 L499.44,201.1" fill="none" stroke="#caaf00" stroke-width="2.8" stroke-linecap="round" stroke-linejoin="round"/>
<path d="M159.5,170 L159.5,120.5 Q159.5,110.5 169.5,110.5 L489.44,110.5 Q499.44,110.5 499.44,120.5 L499.44,201.1" fill="none" stroke="#f7d600" stroke-width="1.9" stroke-linecap="round" stroke-linejoin="round"/>
<path d="M180.6,170 L180.6,85.3 Q180.6,75.3 190.6,75.3 L678.98,75.3 Q688.98,75.3 688.98,85.3 L688.98,201.1" fill="none" stroke="#895e33" stroke-width="2.8" stroke-linecap="round" stroke-linejoin="round"/>
<path d="M180.6,170 L180.6,85.3 Q180.6,75.3 190.6,75.3 L678.98,75.3 Q688.98,75.3 688.98,85.3 L688.98,201.1" fill="none" stroke="#a8733f" stroke-width="1.9" stroke-linecap="round" stroke-linejoin="round"/>
<path d="M191.2,170 L191.2,95.3 Q191.2,85.3 201.2,85.3 L626.33,85.3 Q636.33,85.3 636.33,95.3 L636.33,201.1" fill="none" stroke="#7a7f82" stroke-width="2.8" stroke-linecap="round" stroke-linejoin="round"/>
<path d="M191.2,170 L191.2,95.3 Q191.2,85.3 201.2,85.3 L626.33,85.3 Q636.33,85.3 636.33,95.3 L636.33,201.1" fill="none" stroke="#959b9f" stroke-width="1.9" stroke-linecap="round" stroke-linejoin="round"/>
<path d="M228.9,170 L228.9,133.3 Q228.9,123.3 238.9,123.3 L542.09,123.3 Q552.09,123.3 552.09,133.3 L552.09,232.69" fill="none" stroke="#329432" stroke-width="2.8" stroke-linecap="round" stroke-linejoin="round"/>
<path d="M228.9,170 L228.9,133.3 Q228.9,123.3 238.9,123.3 L542.09,123.3 Q552.09,123.3 552.09,133.3 L552.09,232.69" fill="none" stroke="#3db53d" stroke-width="1.9" stroke-linecap="round" stroke-linejoin="round"/>
<path d="M239.4,170 L239.4,145.8 Q239.4,135.8 249.4,135.8 L552.62,135.8 Q562.62,135.8 562.62,145.8 L562.62,232.69" fill="none" stroke="#5aa4b2" stroke-width="2.8" stroke-linecap="round" stroke-linejoin="round"/>
<path d="M239.4,170 L239.4,145.8 Q239.4,135.8 249.4,135.8 L552.62,135.8 Q562.62,135.8 562.62,145.8 L562.62,232.69" fill="none" stroke="#6ec8da" stroke-width="1.9" stroke-linecap="round" stroke-linejoin="round"/>
<path d="M249.9,170 L249.9,154.2 Q249.9,144.2 259.9,144.2 L563.15,144.2 Q573.15,144.2 573.15,154.2 L573.15,232.69" fill="none" stroke="#137cae" stroke-width="2.8" stroke-linecap="round" stroke-linejoin="round"/>
<path d="M249.9,170 L249.9,154.2 Q249.9,144.2 259.9,144.2 L563.15,144.2 Q573.15,144.2 573.15,154.2 L573.15,232.69" fill="none" stroke="#1898d5" stroke-width="1.9" stroke-linecap="round" stroke-linejoin="round"/>
<path d="M260.4,170 L260.4,161.25 Q260.4,152.5 269.15,152.5 L573.68,152.5 Q583.68,152.5 583.68,162.5 L583.68,232.69" fill="none" stroke="#642f7f" stroke-width="2.8" stroke-linecap="round" stroke-linejoin="round"/>
<path d="M260.4,170 L260.4,161.25 Q260.4,152.5 269.15,152.5 L573.68,152.5 Q583.68,152.5 583.68,162.5 L583.68,232.69" fill="none" stroke="#7a3a9b" stroke-width="1.9" stroke-linecap="round" stroke-linejoin="round"/>
<rect x="419.2" y="400.6" width="331.6" height="149.2" rx="2" fill="#4ea166"/>
<circle cx="428.4" cy="409.8" r="5.4" fill="#f4f5f6"/>
<circle cx="741.6" cy="409.8" r="5.4" fill="#f4f5f6"/>
<circle cx="428.4" cy="540.6" r="5.4" fill="#f4f5f6"/>
<circle cx="741.6" cy="540.6" r="5.4" fill="#f4f5f6"/>
<rect x="437.5" y="426.8" width="295.2" height="104.3" rx="1.5" fill="#3e7d51"/>
<rect x="437.5" y="423.3" width="295.2" height="104.3" rx="1.5" fill="#313131"/>
<rect x="448.2" y="442.2" width="273.6" height="66.5" rx="1.5" fill="#3d63b1"/>
<rect x="468.8" y="451.8" width="12" height="22.9" fill="#33559f"/>
<rect x="483.51" y="451.8" width="12" height="22.9" fill="#33559f"/>
<rect x="498.22" y="451.8" width="12" height="22.9" fill="#33559f"/>
<rect x="512.93" y="451.8" width="12" height="22.9" fill="#33559f"/>
<rect x="527.64" y="451.8" width="12" height="22.9" fill="#33559f"/>
<rect x="542.35" y="451.8" width="12" height="22.9" fill="#33559f"/>
<rect x="557.06" y="451.8" width="12" height="22.9" fill="#33559f"/>
<rect x="571.77" y="451.8" width="12" height="22.9" fill="#33559f"/>
<rect x="586.48" y="451.8" width="12" height="22.9" fill="#33559f"/>
<rect x="601.19" y="451.8" width="12" height="22.9" fill="#33559f"/>
<rect x="615.9" y="451.8" width="12" height="22.9" fill="#33559f"/>
<rect x="630.61" y="451.8" width="12" height="22.9" fill="#33559f"/>
<rect x="645.32" y="451.8" width="12" height="22.9" fill="#33559f"/>
<rect x="660.03" y="451.8" width="12" height="22.9" fill="#33559f"/>
<rect x="674.74" y="451.8" width="12" height="22.9" fill="#33559f"/>
<rect x="689.45" y="451.8" width="12" height="22.9" fill="#33559f"/>
<rect x="468.8" y="476.1" width="12" height="22.9" fill="#33559f"/>
<rect x="483.51" y="476.1" width="12" height="22.9" fill="#33559f"/>
<rect x="498.22" y="476.1" width="12" height="22.9" fill="#33559f"/>
<rect x="512.93" y="476.1" width="12" height="22.9" fill="#33559f"/>
<rect x="527.64" y="476.1" width="12" height="22.9" fill="#33559f"/>
<rect x="542.35" y="476.1" width="12" height="22.9" fill="#33559f"/>
<rect x="557.06" y="476.1" width="12" height="22.9" fill="#33559f"/>
<rect x="571.77" y="476.1" width="12" height="22.9" fill="#33559f"/>
<rect x="586.48" y="476.1" width="12" height="22.9" fill="#33559f"/>
<rect x="601.19" y="476.1" width="12" height="22.9" fill="#33559f"/>
<rect x="615.9" y="476.1" width="12" height="22.9" fill="#33559f"/>
<rect x="630.61" y="476.1" width="12" height="22.9" fill="#33559f"/>
<rect x="645.32" y="476.1" width="12" height="22.9" fill="#33559f"/>
<rect x="660.03" y="476.1" width="12" height="22.9" fill="#33559f"/>
<rect x="674.74" y="476.1" width="12" height="22.9" fill="#33559f"/>
<rect x="689.45" y="476.1" width="12" height="22.9" fill="#33559f"/>
<g fill="#3d60aa" opacity="0.8">
<rect x="470.95" y="451.8" width="0.5" height="22.8"/>
<rect x="473.35" y="451.8" width="0.5" height="22.8"/>
<rect x="475.75" y="451.8" width="0.5" height="22.8"/>
<rect x="478.15" y="451.8" width="0.5" height="22.8"/>
<rect x="468.8" y="454.35" width="12" height="0.6"/>
<rect x="468.8" y="457.2" width="12" height="0.6"/>
<rect x="468.8" y="460.05" width="12" height="0.6"/>
<rect x="468.8" y="462.9" width="12" height="0.6"/>
<rect x="468.8" y="465.75" width="12" height="0.6"/>
<rect x="468.8" y="468.6" width="12" height="0.6"/>
<rect x="468.8" y="471.45" width="12" height="0.6"/>
<rect x="485.66" y="451.8" width="0.5" height="22.8"/>
<rect x="488.06" y="451.8" width="0.5" height="22.8"/>
<rect x="490.46" y="451.8" width="0.5" height="22.8"/>
<rect x="492.86" y="451.8" width="0.5" height="22.8"/>
<rect x="483.51" y="454.35" width="12" height="0.6"/>
<rect x="483.51" y="457.2" width="12" height="0.6"/>
<rect x="483.51" y="460.05" width="12" height="0.6"/>
<rect x="483.51" y="462.9" width="12" height="0.6"/>
<rect x="483.51" y="465.75" width="12" height="0.6"/>
<rect x="483.51" y="468.6" width="12" height="0.6"/>
<rect x="483.51" y="471.45" width="12" height="0.6"/>
<rect x="500.37" y="451.8" width="0.5" height="22.8"/>
<rect x="502.77" y="451.8" width="0.5" height="22.8"/>
<rect x="505.17" y="451.8" width="0.5" height="22.8"/>
<rect x="507.57" y="451.8" width="0.5" height="22.8"/>
<rect x="498.22" y="454.35" width="12" height="0.6"/>
<rect x="498.22" y="457.2" width="12" height="0.6"/>
<rect x="498.22" y="460.05" width="12" height="0.6"/>
<rect x="498.22" y="462.9" width="12" height="0.6"/>
<rect x="498.22" y="465.75" width="12" height="0.6"/>
<rect x="498.22" y="468.6" width="12" height="0.6"/>
<rect x="498.22" y="471.45" width="12" height="0.6"/>
<rect x="515.08" y="451.8" width="0.5" height="22.8"/>
<rect x="517.48" y="451.8" width="0.5" height="22.8"/>
<rect x="519.88" y="451.8" width="0.5" height="22.8"/>
<rect x="522.28" y="451.8" width="0.5" height="22.8"/>
<rect x="512.93" y="454.35" width="12" height="0.6"/>
<rect x="512.93" y="457.2" width="12" height="0.6"/>
<rect x="512.93" y="460.05" width="12" height="0.6"/>
<rect x="512.93" y="462.9" width="12" height="0.6"/>
<rect x="512.93" y="465.75" width="12" height="0.6"/>
<rect x="512.93" y="468.6" width="12" height="0.6"/>
<rect x="512.93" y="471.45" width="12" height="0.6"/>
<rect x="529.79" y="451.8" width="0.5" height="22.8"/>
<rect x="532.19" y="451.8" width="0.5" height="22.8"/>
<rect x="534.59" y="451.8" width="0.5" height="22.8"/>
<rect x="536.99" y="451.8" width="0.5" height="22.8"/>
<rect x="527.64" y="454.35" width="12" height="0.6"/>
<rect x="527.64" y="457.2" width="12" height="0.6"/>
<rect x="527.64" y="460.05" width="12" height="0.6"/>
<rect x="527.64" y="462.9" width="12" height="0.6"/>
<rect x="527.64" y="465.75" width="12" height="0.6"/>
<rect x="527.64" y="468.6" width="12" height="0.6"/>
<rect x="527.64" y="471.45" width="12" height="0.6"/>
<rect x="544.5" y="451.8" width="0.5" height="22.8"/>
<rect x="546.9" y="451.8" width="0.5" height="22.8"/>
<rect x="549.3" y="451.8" width="0.5" height="22.8"/>
<rect x="551.7" y="451.8" width="0.5" height="22.8"/>
<rect x="542.35" y="454.35" width="12" height="0.6"/>
<rect x="542.35" y="457.2" width="12" height="0.6"/>
<rect x="542.35" y="460.05" width="12" height="0.6"/>
<rect x="542.35" y="462.9" width="12" height="0.6"/>
<rect x="542.35" y="465.75" width="12" height="0.6"/>
<rect x="542.35" y="468.6" width="12" height="0.6"/>
<rect x="542.35" y="471.45" width="12" height="0.6"/>
<rect x="559.21" y="451.8" width="0.5" height="22.8"/>
<rect x="561.61" y="451.8" width="0.5" height="22.8"/>
<rect x="564.01" y="451.8" width="0.5" height="22.8"/>
<rect x="566.41" y="451.8" width="0.5" height="22.8"/>
<rect x="557.06" y="454.35" width="12" height="0.6"/>
<rect x="557.06" y="457.2" width="12" height="0.6"/>
<rect x="557.06" y="460.05" width="12" height="0.6"/>
<rect x="557.06" y="462.9" width="12" height="0.6"/>
<rect x="557.06" y="465.75" width="12" height="0.6"/>
<rect x="557.06" y="468.6" width="12" height="0.6"/>
<rect x="557.06" y="471.45" width="12" height="0.6"/>
<rect x="573.92" y="451.8" width="0.5" height="22.8"/>
<rect x="576.32" y="451.8" width="0.5" height="22.8"/>
<rect x="578.72" y="451.8" width="0.5" height="22.8"/>
<rect x="581.12" y="451.8" width="0.5" height="22.8"/>
<rect x="571.77" y="454.35" width="12" height="0.6"/>
<rect x="571.77" y="457.2" width="12" height="0.6"/>
<rect x="571.77" y="460.05" width="12" height="0.6"/>
<rect x="571.77" y="462.9" width="12" height="0.6"/>
<rect x="571.77" y="465.75" width="12" height="0.6"/>
<rect x="571.77" y="468.6" width="12" height="0.6"/>
<rect x="571.77" y="471.45" width="12" height="0.6"/>
<rect x="588.63" y="451.8" width="0.5" height="22.8"/>
<rect x="591.03" y="451.8" width="0.5" height="22.8"/>
<rect x="593.43" y="451.8" width="0.5" height="22.8"/>
<rect x="595.83" y="451.8" width="0.5" height="22.8"/>
<rect x="586.48" y="454.35" width="12" height="0.6"/>
<rect x="586.48" y="457.2" width="12" height="0.6"/>
<rect x="586.48" y="460.05" width="12" height="0.6"/>
<rect x="586.48" y="462.9" width="12" height="0.6"/>
<rect x="586.48" y="465.75" width="12" height="0.6"/>
<rect x="586.48" y="468.6" width="12" height="0.6"/>
<rect x="586.48" y="471.45" width="12" height="0.6"/>
<rect x="603.34" y="451.8" width="0.5" height="22.8"/>
<rect x="605.74" y="451.8" width="0.5" height="22.8"/>
<rect x="608.14" y="451.8" width="0.5" height="22.8"/>
<rect x="610.54" y="451.8" width="0.5" height="22.8"/>
<rect x="601.19" y="454.35" width="12" height="0.6"/>
<rect x="601.19" y="457.2" width="12" height="0.6"/>
<rect x="601.19" y="460.05" width="12" height="0.6"/>
<rect x="601.19" y="462.9" width="12" height="0.6"/>
<rect x="601.19" y="465.75" width="12" height="0.6"/>
<rect x="601.19" y="468.6" width="12" height="0.6"/>
<rect x="601.19" y="471.45" width="12" height="0.6"/>
<rect x="618.05" y="451.8" width="0.5" height="22.8"/>
<rect x="620.45" y="451.8" width="0.5" height="22.8"/>
<rect x="622.85" y="451.8" width="0.5" height="22.8"/>
<rect x="625.25" y="451.8" width="0.5" height="22.8"/>
<rect x="615.9" y="454.35" width="12" height="0.6"/>
<rect x="615.9" y="457.2" width="12" height="0.6"/>
<rect x="615.9" y="460.05" width="12" height="0.6"/>
<rect x="615.9" y="462.9" width="12" height="0.6"/>
<rect x="615.9" y="465.75" width="12" height="0.6"/>
<rect x="615.9" y="468.6" width="12" height="0.6"/>
<rect x="615.9" y="471.45" width="12" height="0.6"/>
<rect x="632.76" y="451.8" width="0.5" height="22.8"/>
<rect x="635.16" y="451.8" width="0.5" height="22.8"/>
<rect x="637.56" y="451.8" width="0.5" height="22.8"/>
<rect x="639.96" y="451.8" width="0.5" height="22.8"/>
<rect x="630.61" y="454.35" width="12" height="0.6"/>
<rect x="630.61" y="457.2" width="12" height="0.6"/>
<rect x="630.61" y="460.05" width="12" height="0.6"/>
<rect x="630.61" y="462.9" width="12" height="0.6"/>
<rect x="630.61" y="465.75" width="12" height="0.6"/>
<rect x="630.61" y="468.6" width="12" height="0.6"/>
<rect x="630.61" y="471.45" width="12" height="0.6"/>
<rect x="647.47" y="451.8" width="0.5" height="22.8"/>
<rect x="649.87" y="451.8" width="0.5" height="22.8"/>
<rect x="652.27" y="451.8" width="0.5" height="22.8"/>
<rect x="654.67" y="451.8" width="0.5" height="22.8"/>
<rect x="645.32" y="454.35" width="12" height="0.6"/>
<rect x="645.32" y="457.2" width="12" height="0.6"/>
<rect x="645.32" y="460.05" width="12" height="0.6"/>
<rect x="645.32" y="462.9" width="12" height="0.6"/>
<rect x="645.32" y="465.75" width="12" height="0.6"/>
<rect x="645.32" y="468.6" width="12" height="0.6"/>
<rect x="645.32" y="471.45" width="12" height="0.6"/>
<rect x="662.18" y="451.8" width="0.5" height="22.8"/>
<rect x="664.58" y="451.8" width="0.5" height="22.8"/>
<rect x="666.98" y="451.8" width="0.5" height="22.8"/>
<rect x="669.38" y="451.8" width="0.5" height="22.8"/>
<rect x="660.03" y="454.35" width="12" height="0.6"/>
<rect x="660.03" y="457.2" width="12" height="0.6"/>
<rect x="660.03" y="460.05" width="12" height="0.6"/>
<rect x="660.03" y="462.9" width="12" height="0.6"/>
<rect x="660.03" y="465.75" width="12" height="0.6"/>
<rect x="660.03" y="468.6" width="12" height="0.6"/>
<rect x="660.03" y="471.45" width="12" height="0.6"/>
<rect x="676.89" y="451.8" width="0.5" height="22.8"/>
<rect x="679.29" y="451.8" width="0.5" height="22.8"/>
<rect x="681.69" y="451.8" width="0.5" height="22.8"/>
<rect x="684.09" y="451.8" width="0.5" height="22.8"/>
<rect x="674.74" y="454.35" width="12" height="0.6"/>
<rect x="674.74" y="457.2" width="12" height="0.6"/>
<rect x="674.74" y="460.05" width="12" height="0.6"/>
<rect x="674.74" y="462.9" width="12" height="0.6"/>
<rect x="674.74" y="465.75" width="12" height="0.6"/>
<rect x="674.74" y="468.6" width="12" height="0.6"/>
<rect x="674.74" y="471.45" width="12" height="0.6"/>
<rect x="691.6" y="451.8" width="0.5" height="22.8"/>
<rect x="694" y="451.8" width="0.5" height="22.8"/>
<rect x="696.4" y="451.8" width="0.5" height="22.8"/>
<rect x="698.8" y="451.8" width="0.5" height="22.8"/>
<rect x="689.45" y="454.35" width="12" height="0.6"/>
<rect x="689.45" y="457.2" width="12" height="0.6"/>
<rect x="689.45" y="460.05" width="12" height="0.6"/>
<rect x="689.45" y="462.9" width="12" height="0.6"/>
<rect x="689.45" y="465.75" width="12" height="0.6"/>
<rect x="689.45" y="468.6" width="12" height="0.6"/>
<rect x="689.45" y="471.45" width="12" height="0.6"/>
<rect x="470.95" y="476.1" width="0.5" height="22.8"/>
<rect x="473.35" y="476.1" width="0.5" height="22.8"/>
<rect x="475.75" y="476.1" width="0.5" height="22.8"/>
<rect x="478.15" y="476.1" width="0.5" height="22.8"/>
<rect x="468.8" y="478.65" width="12" height="0.6"/>
<rect x="468.8" y="481.5" width="12" height="0.6"/>
<rect x="468.8" y="484.35" width="12" height="0.6"/>
<rect x="468.8" y="487.2" width="12" height="0.6"/>
<rect x="468.8" y="490.05" width="12" height="0.6"/>
<rect x="468.8" y="492.9" width="12" height="0.6"/>
<rect x="468.8" y="495.75" width="12" height="0.6"/>
<rect x="485.66" y="476.1" width="0.5" height="22.8"/>
<rect x="488.06" y="476.1" width="0.5" height="22.8"/>
<rect x="490.46" y="476.1" width="0.5" height="22.8"/>
<rect x="492.86" y="476.1" width="0.5" height="22.8"/>
<rect x="483.51" y="478.65" width="12" height="0.6"/>
<rect x="483.51" y="481.5" width="12" height="0.6"/>
<rect x="483.51" y="484.35" width="12" height="0.6"/>
<rect x="483.51" y="487.2" width="12" height="0.6"/>
<rect x="483.51" y="490.05" width="12" height="0.6"/>
<rect x="483.51" y="492.9" width="12" height="0.6"/>
<rect x="483.51" y="495.75" width="12" height="0.6"/>
<rect x="500.37" y="476.1" width="0.5" height="22.8"/>
<rect x="502.77" y="476.1" width="0.5" height="22.8"/>
<rect x="505.17" y="476.1" width="0.5" height="22.8"/>
<rect x="507.57" y="476.1" width="0.5" height="22.8"/>
<rect x="498.22" y="478.65" width="12" height="0.6"/>
<rect x="498.22" y="481.5" width="12" height="0.6"/>
<rect x="498.22" y="484.35" width="12" height="0.6"/>
<rect x="498.22" y="487.2" width="12" height="0.6"/>
<rect x="498.22" y="490.05" width="12" height="0.6"/>
<rect x="498.22" y="492.9" width="12" height="0.6"/>
<rect x="498.22" y="495.75" width="12" height="0.6"/>
<rect x="515.08" y="476.1" width="0.5" height="22.8"/>
<rect x="517.48" y="476.1" width="0.5" height="22.8"/>
<rect x="519.88" y="476.1" width="0.5" height="22.8"/>
<rect x="522.28" y="476.1" width="0.5" height="22.8"/>
<rect x="512.93" y="478.65" width="12" height="0.6"/>
<rect x="512.93" y="481.5" width="12" height="0.6"/>
<rect x="512.93" y="484.35" width="12" height="0.6"/>
<rect x="512.93" y="487.2" width="12" height="0.6"/>
<rect x="512.93" y="490.05" width="12" height="0.6"/>
<rect x="512.93" y="492.9" width="12" height="0.6"/>
<rect x="512.93" y="495.75" width="12" height="0.6"/>
<rect x="529.79" y="476.1" width="0.5" height="22.8"/>
<rect x="532.19" y="476.1" width="0.5" height="22.8"/>
<rect x="534.59" y="476.1" width="0.5" height="22.8"/>
<rect x="536.99" y="476.1" width="0.5" height="22.8"/>
<rect x="527.64" y="478.65" width="12" height="0.6"/>
<rect x="527.64" y="481.5" width="12" height="0.6"/>
<rect x="527.64" y="484.35" width="12" height="0.6"/>
<rect x="527.64" y="487.2" width="12" height="0.6"/>
<rect x="527.64" y="490.05" width="12" height="0.6"/>
<rect x="527.64" y="492.9" width="12" height="0.6"/>
<rect x="527.64" y="495.75" width="12" height="0.6"/>
<rect x="544.5" y="476.1" width="0.5" height="22.8"/>
<rect x="546.9" y="476.1" width="0.5" height="22.8"/>
<rect x="549.3" y="476.1" width="0.5" height="22.8"/>
<rect x="551.7" y="476.1" width="0.5" height="22.8"/>
<rect x="542.35" y="478.65" width="12" height="0.6"/>
<rect x="542.35" y="481.5" width="12" height="0.6"/>
<rect x="542.35" y="484.35" width="12" height="0.6"/>
<rect x="542.35" y="487.2" width="12" height="0.6"/>
<rect x="542.35" y="490.05" width="12" height="0.6"/>
<rect x="542.35" y="492.9" width="12" height="0.6"/>
<rect x="542.35" y="495.75" width="12" height="0.6"/>
<rect x="559.21" y="476.1" width="0.5" height="22.8"/>
<rect x="561.61" y="476.1" width="0.5" height="22.8"/>
<rect x="564.01" y="476.1" width="0.5" height="22.8"/>
<rect x="566.41" y="476.1" width="0.5" height="22.8"/>
<rect x="557.06" y="478.65" width="12" height="0.6"/>
<rect x="557.06" y="481.5" width="12" height="0.6"/>
<rect x="557.06" y="484.35" width="12" height="0.6"/>
<rect x="557.06" y="487.2" width="12" height="0.6"/>
<rect x="557.06" y="490.05" width="12" height="0.6"/>
<rect x="557.06" y="492.9" width="12" height="0.6"/>
<rect x="557.06" y="495.75" width="12" height="0.6"/>
<rect x="573.92" y="476.1" width="0.5" height="22.8"/>
<rect x="576.32" y="476.1" width="0.5" height="22.8"/>
<rect x="578.72" y="476.1" width="0.5" height="22.8"/>
<rect x="581.12" y="476.1" width="0.5" height="22.8"/>
<rect x="571.77" y="478.65" width="12" height="0.6"/>
<rect x="571.77" y="481.5" width="12" height="0.6"/>
<rect x="571.77" y="484.35" width="12" height="0.6"/>
<rect x="571.77" y="487.2" width="12" height="0.6"/>
<rect x="571.77" y="490.05" width="12" height="0.6"/>
<rect x="571.77" y="492.9" width="12" height="0.6"/>
<rect x="571.77" y="495.75" width="12" height="0.6"/>
<rect x="588.63" y="476.1" width="0.5" height="22.8"/>
<rect x="591.03" y="476.1" width="0.5" height="22.8"/>
<rect x="593.43" y="476.1" width="0.5" height="22.8"/>
<rect x="595.83" y="476.1" width="0.5" height="22.8"/>
<rect x="586.48" y="478.65" width="12" height="0.6"/>
<rect x="586.48" y="481.5" width="12" height="0.6"/>
<rect x="586.48" y="484.35" width="12" height="0.6"/>
<rect x="586.48" y="487.2" width="12" height="0.6"/>
<rect x="586.48" y="490.05" width="12" height="0.6"/>
<rect x="586.48" y="492.9" width="12" height="0.6"/>
<rect x="586.48" y="495.75" width="12" height="0.6"/>
<rect x="603.34" y="476.1" width="0.5" height="22.8"/>
<rect x="605.74" y="476.1" width="0.5" height="22.8"/>
<rect x="608.14" y="476.1" width="0.5" height="22.8"/>
<rect x="610.54" y="476.1" width="0.5" height="22.8"/>
<rect x="601.19" y="478.65" width="12" height="0.6"/>
<rect x="601.19" y="481.5" width="12" height="0.6"/>
<rect x="601.19" y="484.35" width="12" height="0.6"/>
<rect x="601.19" y="487.2" width="12" height="0.6"/>
<rect x="601.19" y="490.05" width="12" height="0.6"/>
<rect x="601.19" y="492.9" width="12" height="0.6"/>
<rect x="601.19" y="495.75" width="12" height="0.6"/>
<rect x="618.05" y="476.1" width="0.5" height="22.8"/>
<rect x="620.45" y="476.1" width="0.5" height="22.8"/>
<rect x="622.85" y="476.1" width="0.5" height="22.8"/>
<rect x="625.25" y="476.1" width="0.5" height="22.8"/>
<rect x="615.9" y="478.65" width="12" height="0.6"/>
<rect x="615.9" y="481.5" width="12" height="0.6"/>
<rect x="615.9" y="484.35" width="12" height="0.6"/>
<rect x="615.9" y="487.2" width="12" height="0.6"/>
<rect x="615.9" y="490.05" width="12" height="0.6"/>
<rect x="615.9" y="492.9" width="12" height="0.6"/>
<rect x="615.9" y="495.75" width="12" height="0.6"/>
<rect x="632.76" y="476.1" width="0.5" height="22.8"/>
<rect x="635.16" y="476.1" width="0.5" height="22.8"/>
<rect x="637.56" y="476.1" width="0.5" height="22.8"/>
<rect x="639.96" y="476.1" width="0.5" height="22.8"/>
<rect x="630.61" y="478.65" width="12" height="0.6"/>
<rect x="630.61" y="481.5" width="12" height="0.6"/>
<rect x="630.61" y="484.35" width="12" height="0.6"/>
<rect x="630.61" y="487.2" width="12" height="0.6"/>
<rect x="630.61" y="490.05" width="12" height="0.6"/>
<rect x="630.61" y="492.9" width="12" height="0.6"/>
<rect x="630.61" y="495.75" width="12" height="0.6"/>
<rect x="647.47" y="476.1" width="0.5" height="22.8"/>
<rect x="649.87" y="476.1" width="0.5" height="22.8"/>
<rect x="652.27" y="476.1" width="0.5" height="22.8"/>
<rect x="654.67" y="476.1" width="0.5" height="22.8"/>
<rect x="645.32" y="478.65" width="12" height="0.6"/>
<rect x="645.32" y="481.5" width="12" height="0.6"/>
<rect x="645.32" y="484.35" width="12" height="0.6"/>
<rect x="645.32" y="487.2" width="12" height="0.6"/>
<rect x="645.32" y="490.05" width="12" height="0.6"/>
<rect x="645.32" y="492.9" width="12" height="0.6"/>
<rect x="645.32" y="495.75" width="12" height="0.6"/>
<rect x="662.18" y="476.1" width="0.5" height="22.8"/>
<rect x="664.58" y="476.1" width="0.5" height="22.8"/>
<rect x="666.98" y="476.1" width="0.5" height="22.8"/>
<rect x="669.38" y="476.1" width="0.5" height="22.8"/>
<rect x="660.03" y="478.65" width="12" height="0.6"/>
<rect x="660.03" y="481.5" width="12" height="0.6"/>
<rect x="660.03" y="484.35" width="12" height="0.6"/>
<rect x="660.03" y="487.2" width="12" height="0.6"/>
<rect x="660.03" y="490.05" width="12" height="0.6"/>
<rect x="660.03" y="492.9" width="12" height="0.6"/>
<rect x="660.03" y="495.75" width="12" height="0.6"/>
<rect x="676.89" y="476.1" width="0.5" height="22.8"/>
<rect x="679.29" y="476.1" width="0.5" height="22.8"/>
<rect x="681.69" y="476.1" width="0.5" height="22.8"/>
<rect x="684.09" y="476.1" width="0.5" height="22.8"/>
<rect x="674.74" y="478.65" width="12" height="0.6"/>
<rect x="674.74" y="481.5" width="12" height="0.6"/>
<rect x="674.74" y="484.35" width="12" height="0.6"/>
<rect x="674.74" y="487.2" width="12" height="0.6"/>
<rect x="674.74" y="490.05" width="12" height="0.6"/>
<rect x="674.74" y="492.9" width="12" height="0.6"/>
<rect x="674.74" y="495.75" width="12" height="0.6"/>
<rect x="691.6" y="476.1" width="0.5" height="22.8"/>
<rect x="694" y="476.1" width="0.5" height="22.8"/>
<rect x="696.4" y="476.1" width="0.5" height="22.8"/>
<rect x="698.8" y="476.1" width="0.5" height="22.8"/>
<rect x="689.45" y="478.65" width="12" height="0.6"/>
<rect x="689.45" y="481.5" width="12" height="0.6"/>
<rect x="689.45" y="484.35" width="12" height="0.6"/>
<rect x="689.45" y="487.2" width="12" height="0.6"/>
<rect x="689.45" y="490.05" width="12" height="0.6"/>
<rect x="689.45" y="492.9" width="12" height="0.6"/>
<rect x="689.45" y="495.75" width="12" height="0.6"/>
</g>
<g fill="#e9eef8">
<rect x="473.8" y="476.35" width="2.0" height="2.35"/>
<rect x="471.4" y="479.2" width="2.0" height="2.35"/>
<rect x="473.8" y="479.2" width="2.0" height="2.35"/>
<rect x="473.8" y="482.05" width="2.0" height="2.35"/>
<rect x="473.8" y="484.9" width="2.0" height="2.35"/>
<rect x="473.8" y="487.75" width="2.0" height="2.35"/>
<rect x="473.8" y="490.6" width="2.0" height="2.35"/>
<rect x="471.4" y="493.45" width="2.0" height="2.35"/>
<rect x="473.8" y="493.45" width="2.0" height="2.35"/>
<rect x="476.2" y="493.45" width="2.0" height="2.35"/>
<rect x="488.51" y="476.35" width="2.0" height="2.35"/>
<rect x="490.91" y="476.35" width="2.0" height="2.35"/>
<rect x="486.11" y="479.2" width="2.0" height="2.35"/>
<rect x="483.71" y="482.05" width="2.0" height="2.35"/>
<rect x="483.71" y="484.9" width="2.0" height="2.35"/>
<rect x="486.11" y="484.9" width="2.0" height="2.35"/>
<rect x="488.51" y="484.9" width="2.0" height="2.35"/>
<rect x="490.91" y="484.9" width="2.0" height="2.35"/>
<rect x="483.71" y="487.75" width="2.0" height="2.35"/>
<rect x="493.31" y="487.75" width="2.0" height="2.35"/>
<rect x="483.71" y="490.6" width="2.0" height="2.35"/>
<rect x="493.31" y="490.6" width="2.0" height="2.35"/>
<rect x="486.11" y="493.45" width="2.0" height="2.35"/>
<rect x="488.51" y="493.45" width="2.0" height="2.35"/>
<rect x="490.91" y="493.45" width="2.0" height="2.35"/>
<rect x="500.82" y="479.2" width="2.0" height="2.35"/>
<rect x="503.22" y="479.2" width="2.0" height="2.35"/>
<rect x="500.82" y="482.05" width="2.0" height="2.35"/>
<rect x="503.22" y="482.05" width="2.0" height="2.35"/>
<rect x="500.82" y="487.75" width="2.0" height="2.35"/>
<rect x="503.22" y="487.75" width="2.0" height="2.35"/>
<rect x="500.82" y="490.6" width="2.0" height="2.35"/>
<rect x="503.22" y="490.6" width="2.0" height="2.35"/>
<rect x="513.13" y="476.35" width="2.0" height="2.35"/>
<rect x="515.53" y="476.35" width="2.0" height="2.35"/>
<rect x="517.93" y="476.35" width="2.0" height="2.35"/>
<rect x="520.33" y="476.35" width="2.0" height="2.35"/>
<rect x="522.73" y="476.35" width="2.0" height="2.35"/>
<rect x="520.33" y="479.2" width="2.0" height="2.35"/>
<rect x="517.93" y="482.05" width="2.0" height="2.35"/>
<rect x="520.33" y="484.9" width="2.0" height="2.35"/>
<rect x="522.73" y="487.75" width="2.0" height="2.35"/>
<rect x="513.13" y="490.6" width="2.0" height="2.35"/>
<rect x="522.73" y="490.6" width="2.0" height="2.35"/>
<rect x="515.53" y="493.45" width="2.0" height="2.35"/>
<rect x="517.93" y="493.45" width="2.0" height="2.35"/>
<rect x="520.33" y="493.45" width="2.0" height="2.35"/>
<rect x="530.24" y="476.35" width="2.0" height="2.35"/>
<rect x="532.64" y="476.35" width="2.0" height="2.35"/>
<rect x="535.04" y="476.35" width="2.0" height="2.35"/>
<rect x="527.84" y="479.2" width="2.0" height="2.35"/>
<rect x="537.44" y="479.2" width="2.0" height="2.35"/>
<rect x="527.84" y="482.05" width="2.0" height="2.35"/>
<rect x="535.04" y="482.05" width="2.0" height="2.35"/>
<rect x="537.44" y="482.05" width="2.0" height="2.35"/>
<rect x="527.84" y="484.9" width="2.0" height="2.35"/>
<rect x="532.64" y="484.9" width="2.0" height="2.35"/>
<rect x="537.44" y="484.9" width="2.0" height="2.35"/>
<rect x="527.84" y="487.75" width="2.0" height="2.35"/>
<rect x="530.24" y="487.75" width="2.0" height="2.35"/>
<rect x="537.44" y="487.75" width="2.0" height="2.35"/>
<rect x="527.84" y="490.6" width="2.0" height="2.35"/>
<rect x="537.44" y="490.6" width="2.0" height="2.35"/>
<rect x="530.24" y="493.45" width="2.0" height="2.35"/>
<rect x="532.64" y="493.45" width="2.0" height="2.35"/>
<rect x="535.04" y="493.45" width="2.0" height="2.35"/>
<rect x="544.95" y="479.2" width="2.0" height="2.35"/>
<rect x="547.35" y="479.2" width="2.0" height="2.35"/>
<rect x="544.95" y="482.05" width="2.0" height="2.35"/>
<rect x="547.35" y="482.05" width="2.0" height="2.35"/>
<rect x="544.95" y="487.75" width="2.0" height="2.35"/>
<rect x="547.35" y="487.75" width="2.0" height="2.35"/>
<rect x="544.95" y="490.6" width="2.0" height="2.35"/>
<rect x="547.35" y="490.6" width="2.0" height="2.35"/>
<rect x="557.26" y="476.35" width="2.0" height="2.35"/>
<rect x="559.66" y="476.35" width="2.0" height="2.35"/>
<rect x="562.06" y="476.35" width="2.0" height="2.35"/>
<rect x="564.46" y="476.35" width="2.0" height="2.35"/>
<rect x="566.86" y="476.35" width="2.0" height="2.35"/>
<rect x="564.46" y="479.2" width="2.0" height="2.35"/>
<rect x="562.06" y="482.05" width="2.0" height="2.35"/>
<rect x="564.46" y="484.9" width="2.0" height="2.35"/>
<rect x="566.86" y="487.75" width="2.0" height="2.35"/>
<rect x="557.26" y="490.6" width="2.0" height="2.35"/>
<rect x="566.86" y="490.6" width="2.0" height="2.35"/>
<rect x="559.66" y="493.45" width="2.0" height="2.35"/>
<rect x="562.06" y="493.45" width="2.0" height="2.35"/>
<rect x="564.46" y="493.45" width="2.0" height="2.35"/>
<rect x="574.37" y="476.35" width="2.0" height="2.35"/>
<rect x="576.77" y="476.35" width="2.0" height="2.35"/>
<rect x="579.17" y="476.35" width="2.0" height="2.35"/>
<rect x="571.97" y="479.2" width="2.0" height="2.35"/>
<rect x="581.57" y="479.2" width="2.0" height="2.35"/>
<rect x="571.97" y="482.05" width="2.0" height="2.35"/>
<rect x="581.57" y="482.05" width="2.0" height="2.35"/>
<rect x="574.37" y="484.9" width="2.0" height="2.35"/>
<rect x="576.77" y="484.9" width="2.0" height="2.35"/>
<rect x="579.17" y="484.9" width="2.0" height="2.35"/>
<rect x="571.97" y="487.75" width="2.0" height="2.35"/>
<rect x="581.57" y="487.75" width="2.0" height="2.35"/>
<rect x="571.97" y="490.6" width="2.0" height="2.35"/>
<rect x="581.57" y="490.6" width="2.0" height="2.35"/>
<rect x="574.37" y="493.45" width="2.0" height="2.35"/>
<rect x="576.77" y="493.45" width="2.0" height="2.35"/>
<rect x="579.17" y="493.45" width="2.0" height="2.35"/>
</g>
<circle cx="447.9" cy="406.4" r="3.2" fill="#e9d6a6"/>
<rect x="446.6" y="405.1" width="2.6" height="2.6" rx="0.6" fill="#222"/>
<text transform="translate(446.4,410.8) rotate(90)" font-size="4.6" fill="#e8f0e8">GND</text>
<circle cx="458.43" cy="406.4" r="3.2" fill="#e9d6a6"/>
<rect x="457.13" y="405.1" width="2.6" height="2.6" rx="0.6" fill="#e21"/>
<text transform="translate(456.93,410.8) rotate(90)" font-size="4.6" fill="#e8f0e8">VCC</text>
<circle cx="468.96" cy="406.4" r="3.2" fill="#e9d6a6"/>
<rect x="467.66" y="405.1" width="2.6" height="2.6" rx="0.6" fill="#d42a9a"/>
<text transform="translate(467.46,410.8) rotate(90)" font-size="4.6" fill="#e8f0e8">V0</text>
<circle cx="479.49" cy="406.4" r="3.2" fill="#e9d6a6"/>
<rect x="478.19" y="405.1" width="2.6" height="2.6" rx="0.6" fill="#f08000"/>
<text transform="translate(477.99,410.8) rotate(90)" font-size="4.6" fill="#e8f0e8">RS</text>
<circle cx="490.02" cy="406.4" r="3.2" fill="#e9d6a6"/>
<rect x="488.72" y="405.1" width="2.6" height="2.6" rx="0.6" fill="#222"/>
<text transform="translate(488.52,410.8) rotate(90)" font-size="4.6" fill="#e8f0e8">RW</text>
<circle cx="500.55" cy="406.4" r="3.2" fill="#e9d6a6"/>
<rect x="499.25" y="405.1" width="2.6" height="2.6" rx="0.6" fill="#f5d400"/>
<text transform="translate(499.05,410.8) rotate(90)" font-size="4.6" fill="#e8f0e8">E</text>
<circle cx="511.08" cy="406.4" r="3.2" fill="#e9d6a6"/>
<rect x="509.78" y="405.1" width="2.6" height="2.6" rx="0.6" fill="#fff"/>
<text transform="translate(509.58,410.8) rotate(90)" font-size="4.6" fill="#e8f0e8">DB0</text>
<circle cx="521.61" cy="406.4" r="3.2" fill="#e9d6a6"/>
<rect x="520.31" y="405.1" width="2.6" height="2.6" rx="0.6" fill="#fff"/>
<text transform="translate(520.11,410.8) rotate(90)" font-size="4.6" fill="#e8f0e8">DB1</text>
<circle cx="532.14" cy="406.4" r="3.2" fill="#e9d6a6"/>
<rect x="530.84" y="405.1" width="2.6" height="2.6" rx="0.6" fill="#fff"/>
<text transform="translate(530.64,410.8) rotate(90)" font-size="4.6" fill="#e8f0e8">DB2</text>
<circle cx="542.67" cy="406.4" r="3.2" fill="#e9d6a6"/>
<rect x="541.37" y="405.1" width="2.6" height="2.6" rx="0.6" fill="#fff"/>
<text transform="translate(541.17,410.8) rotate(90)" font-size="4.6" fill="#e8f0e8">DB3</text>
<circle cx="553.2" cy="406.4" r="3.2" fill="#e9d6a6"/>
<rect x="551.9" y="405.1" width="2.6" height="2.6" rx="0.6" fill="#3cb43c"/>
<text transform="translate(551.7,410.8) rotate(90)" font-size="4.6" fill="#e8f0e8">DB4</text>
<circle cx="563.73" cy="406.4" r="3.2" fill="#e9d6a6"/>
<rect x="562.43" y="405.1" width="2.6" height="2.6" rx="0.6" fill="#6cc8da"/>
<text transform="translate(562.23,410.8) rotate(90)" font-size="4.6" fill="#e8f0e8">DB5</text>
<circle cx="574.26" cy="406.4" r="3.2" fill="#e9d6a6"/>
<rect x="572.96" y="405.1" width="2.6" height="2.6" rx="0.6" fill="#1a98d5"/>
<text transform="translate(572.76,410.8) rotate(90)" font-size="4.6" fill="#e8f0e8">DB6</text>
<circle cx="584.79" cy="406.4" r="3.2" fill="#e9d6a6"/>
<rect x="583.49" y="405.1" width="2.6" height="2.6" rx="0.6" fill="#7b3b9c"/>
<text transform="translate(583.29,410.8) rotate(90)" font-size="4.6" fill="#e8f0e8">DB7</text>
<circle cx="595.32" cy="406.4" r="3.2" fill="#e9d6a6"/>
<rect x="594.02" y="405.1" width="2.6" height="2.6" rx="0.6" fill="#a0703f"/>
<text transform="translate(593.82,410.8) rotate(90)" font-size="4.6" fill="#e8f0e8">LED</text>
<circle cx="605.85" cy="406.4" r="3.2" fill="#e9d6a6"/>
<rect x="604.55" y="405.1" width="2.6" height="2.6" rx="0.6" fill="#222"/>
<text transform="translate(604.35,410.8) rotate(90)" font-size="4.6" fill="#e8f0e8">LED</text>
</svg></body></html>
